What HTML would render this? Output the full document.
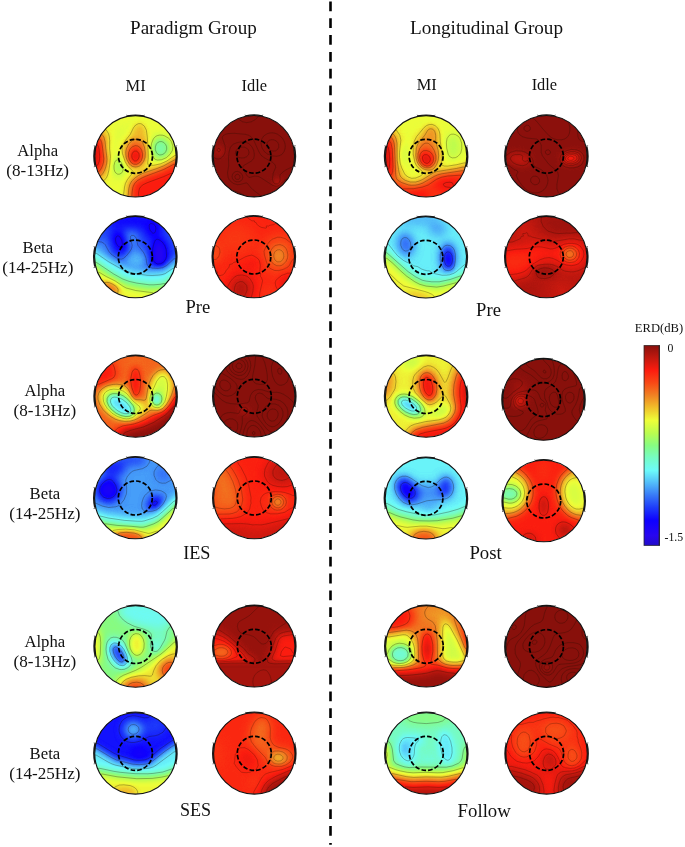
<!DOCTYPE html>
<html lang="en"><head><meta charset="utf-8"><title>ERD topographies</title>
<style>
html,body{margin:0;padding:0;background:#fff;}
body{width:685px;height:847px;overflow:hidden;}
svg{display:block;}
text{font-family:"Liberation Serif",serif;fill:#111;}
</style></head><body>
<svg width="685" height="847" viewBox="0 0 685 847">
<defs>
<filter id="b2" x="-30%" y="-30%" width="160%" height="160%" color-interpolation-filters="sRGB"><feGaussianBlur stdDeviation="2"/></filter>
<filter id="b3" x="-30%" y="-30%" width="160%" height="160%" color-interpolation-filters="sRGB"><feGaussianBlur stdDeviation="3"/></filter>
<filter id="b4" x="-30%" y="-30%" width="160%" height="160%" color-interpolation-filters="sRGB"><feGaussianBlur stdDeviation="4"/></filter>
<filter id="b5" x="-30%" y="-30%" width="160%" height="160%" color-interpolation-filters="sRGB"><feGaussianBlur stdDeviation="5"/></filter>
<filter id="b7" x="-30%" y="-30%" width="160%" height="160%" color-interpolation-filters="sRGB"><feGaussianBlur stdDeviation="7"/></filter>
<filter id="jet" x="0" y="0" width="100%" height="100%" color-interpolation-filters="sRGB"><feComponentTransfer><feFuncR type="table" tableValues="0.133 0.137 0.141 0.144 0.148 0.152 0.155 0.15 0.14 0.129 0.119 0.108 0.097 0.087 0.076 0.066 0.055 0.062 0.07 0.078 0.085 0.093 0.1 0.108 0.115 0.126 0.139 0.152 0.165 0.177 0.19 0.203 0.216 0.229 0.242 0.255 0.268 0.281 0.294 0.308 0.321 0.334 0.347 0.359 0.372 0.385 0.398 0.411 0.424 0.428 0.433 0.438 0.442 0.447 0.452 0.457 0.461 0.469 0.477 0.486 0.495 0.503 0.512 0.521 0.529 0.555 0.58 0.606 0.632 0.657 0.683 0.708 0.733 0.758 0.783 0.808 0.833 0.858 0.883 0.908 0.933 0.934 0.935 0.936 0.937 0.938 0.939 0.94 0.941 0.941 0.941 0.941 0.941 0.941 0.941 0.941 0.941 0.945 0.949 0.953 0.958 0.962 0.966 0.97 0.973 0.975 0.977 0.979 0.981 0.983 0.984 0.986 0.988 0.959 0.93 0.901 0.872 0.843 0.814 0.785 0.758 0.73 0.703 0.675 0.648 0.62 0.592 0.565 0.537"/><feFuncG type="table" tableValues="0.047 0.043 0.04 0.036 0.032 0.029 0.025 0.022 0.02 0.017 0.015 0.012 0.01 0.007 0.005 0.002 0 0.028 0.057 0.085 0.113 0.141 0.17 0.198 0.226 0.256 0.287 0.317 0.348 0.379 0.409 0.44 0.471 0.503 0.536 0.569 0.602 0.635 0.668 0.7 0.733 0.766 0.797 0.827 0.858 0.888 0.919 0.95 0.98 0.981 0.982 0.983 0.984 0.985 0.986 0.987 0.988 0.988 0.988 0.988 0.988 0.988 0.988 0.988 0.988 0.988 0.988 0.988 0.988 0.988 0.988 0.988 0.989 0.989 0.99 0.991 0.992 0.993 0.994 0.995 0.996 0.966 0.936 0.906 0.875 0.845 0.815 0.785 0.755 0.724 0.694 0.663 0.632 0.602 0.571 0.54 0.51 0.482 0.454 0.426 0.397 0.369 0.341 0.313 0.287 0.265 0.243 0.221 0.198 0.176 0.154 0.132 0.11 0.108 0.106 0.105 0.103 0.101 0.1 0.098 0.094 0.09 0.086 0.082 0.079 0.075 0.071 0.067 0.063"/><feFuncB type="table" tableValues="0.784 0.809 0.833 0.858 0.882 0.907 0.931 0.945 0.951 0.957 0.963 0.969 0.975 0.982 0.988 0.994 1 0.998 0.995 0.993 0.991 0.988 0.986 0.984 0.981 0.98 0.979 0.978 0.977 0.976 0.975 0.974 0.973 0.973 0.974 0.975 0.976 0.977 0.978 0.979 0.98 0.98 0.98 0.98 0.98 0.98 0.98 0.98 0.98 0.954 0.929 0.903 0.877 0.851 0.825 0.799 0.773 0.742 0.709 0.676 0.643 0.609 0.576 0.543 0.51 0.484 0.459 0.433 0.408 0.382 0.357 0.331 0.31 0.299 0.287 0.276 0.265 0.254 0.242 0.231 0.22 0.213 0.206 0.2 0.193 0.187 0.18 0.173 0.167 0.162 0.159 0.155 0.152 0.148 0.144 0.141 0.137 0.131 0.124 0.117 0.111 0.104 0.097 0.091 0.085 0.082 0.079 0.075 0.072 0.069 0.065 0.062 0.059 0.059 0.059 0.059 0.059 0.059 0.059 0.059 0.058 0.056 0.055 0.054 0.052 0.051 0.05 0.048 0.047"/><feFuncA type="linear" slope="0" intercept="1"/></feComponentTransfer></filter>
<clipPath id="hc"><circle cx="0" cy="0" r="40.70"/></clipPath>
<linearGradient id="cb" x1="0" y1="1" x2="0" y2="0"><stop offset="0.0000" stop-color="rgb(34,12,200)"/><stop offset="0.0500" stop-color="rgb(40,6,240)"/><stop offset="0.1250" stop-color="rgb(14,0,255)"/><stop offset="0.1900" stop-color="rgb(30,60,250)"/><stop offset="0.2500" stop-color="rgb(55,120,248)"/><stop offset="0.3200" stop-color="rgb(85,195,250)"/><stop offset="0.3750" stop-color="rgb(108,250,250)"/><stop offset="0.4400" stop-color="rgb(118,252,195)"/><stop offset="0.5000" stop-color="rgb(135,252,130)"/><stop offset="0.5600" stop-color="rgb(185,252,80)"/><stop offset="0.6250" stop-color="rgb(238,254,56)"/><stop offset="0.6900" stop-color="rgb(240,190,42)"/><stop offset="0.7500" stop-color="rgb(240,130,35)"/><stop offset="0.8100" stop-color="rgb(248,75,22)"/><stop offset="0.8750" stop-color="rgb(252,28,15)"/><stop offset="0.9300" stop-color="rgb(200,25,15)"/><stop offset="1.0000" stop-color="rgb(137,16,12)"/></linearGradient>
</defs>
<rect width="685" height="847" fill="#fff"/>
<g transform="translate(135.5 156.3)"><path d="M-40.35 9.47 A41.45 41.45 0 0 1 -40.25 -9.89 M40.35 -9.47 A41.45 41.45 0 0 1 40.25 9.89" fill="none" stroke="#1c1c1c" stroke-width="1.7"/><path d="M-8.22 -40.42 A41.25 41.25 0 0 1 8.22 -40.42" fill="none" stroke="#1a1a1a" stroke-width="1.3"/><path d="M-39.3 -9.9l-2.4 -0.6M-39.3 9.9l-2.4 0.6M39.3 -9.9l2.4 -0.6M39.3 9.9l2.4 0.6M-8.3 -40.1l-0.6 -1.4M8.3 -40.1l0.6 -1.4" fill="none" stroke="#222" stroke-width="0.7"/><g clip-path="url(#hc)"><g filter="url(#jet)"><rect x="-60" y="-60" width="120" height="120" fill="#9f9f9f"/><g filter="url(#b7)"><ellipse cx="-53" cy="-2" rx="25" ry="28" fill="#ebebeb"/></g><g filter="url(#b5)"><polygon points="-7,50 -5,25 8,18 26,12 50,-2 50,50" fill="#dfdfdf"/><ellipse cx="25" cy="-8" rx="10" ry="11" fill="#757575"/><ellipse cx="-12" cy="-22" rx="6" ry="9" fill="#999999" transform="rotate(10 -12 -22)"/><ellipse cx="-17" cy="10" rx="6" ry="10" fill="#858585"/><ellipse cx="-23" cy="-8" rx="5" ry="10" fill="#999999"/><ellipse cx="1" cy="-6" rx="13" ry="18" fill="#b8b8b8" transform="rotate(8 1 -6)"/></g><g filter="url(#b3)"><ellipse cx="4" cy="-25" rx="6" ry="8" fill="#b2b2b2"/><ellipse cx="0" cy="-3" rx="9" ry="13" fill="#c7c7c7" transform="rotate(5 0 -3)"/><ellipse cx="0" cy="0" rx="6.5" ry="8.5" fill="#e4e4e4"/></g></g><path d="M26.5 -1.6L28.8 -2.8L30.2 -4.5L31.2 -7.1L31.1 -9.6L30.2 -11.7L28.2 -13.9L26.2 -14.7L24.2 -14.7L22.2 -13.8L20.8 -12.1L19.9 -9.6L19.8 -6.6L20.8 -4.0L22.2 -2.2L24.2 -1.3L26.5 -1.6M26.2 3.4L30.8 1.4L34.6 -2.1L37.0 -6.1L37.4 -10.1L35.9 -14.6L34.6 -16.6L32.8 -18.3L28.8 -20.6L26.8 -21.1L24.2 -21.2L22.2 -20.8L20.5 -20.1L18.8 -18.6L17.8 -17.3L16.1 -13.1L15.6 -9.6L15.6 -6.1L16.7 -1.1L18.8 2.3L20.2 3.3L22.2 3.8L26.2 3.4M-16.2 17.9L-14.2 17.0L-13.0 15.4L-12.3 13.4L-12.4 10.9L-13.1 8.4L-14.8 5.4L-16.8 3.8L-18.2 3.5L-19.8 4.4L-20.8 6.1L-21.5 9.4L-21.4 12.9L-20.8 15.0L-19.8 16.6L-17.8 17.9L-16.2 17.9M-43.8 -39.2L-42.2 -38.2L-30.2 -27.3L-28.4 -25.1L-27.0 -22.6L-26.2 -19.6L-25.8 -15.6L-25.9 -8.1L-25.1 0.4L-25.6 6.9L-26.6 13.9L-27.8 18.7L-29.0 21.4L-31.1 23.9L-42.8 32.8L-43.8 33.2M-13.6 43.9L-11.8 37.4L-11.0 30.9L-10.2 27.4L-8.2 23.4L-2.7 16.4L-2.4 15.4L-3.0 14.4L-7.7 9.9L-10.3 5.4L-13.0 -2.6L-13.4 -6.1L-13.3 -8.1L-12.6 -11.1L-10.6 -15.1L-5.2 -22.0L-2.0 -28.6L0.2 -31.3L2.8 -32.6L4.8 -32.7L6.2 -32.2L8.9 -30.1L10.9 -26.1L11.8 -19.1L12.7 -3.1L12.7 2.4L12.2 6.4L12.3 7.9L12.8 8.6L13.8 9.0L18.2 9.0L24.8 7.6L31.2 4.8L39.2 -0.7L43.8 -0.9M-43.8 -28.4L-42.2 -27.8L-33.6 -22.1L-31.6 -19.1L-30.5 -15.1L-28.5 2.9L-28.8 6.9L-29.6 10.4L-30.8 13.9L-32.8 17.4L-34.8 19.6L-43.8 24.5M1.8 10.5L-0.2 10.7L-2.8 10.2L-4.8 9.0L-6.2 7.6L-8.6 3.4L-9.4 0.9L-9.7 -2.1L-9.7 -4.6L-9.1 -7.6L-6.8 -12.3L-3.2 -15.8L-1.2 -16.7L0.8 -17.0L2.2 -16.9L4.8 -15.9L7.1 -13.6L9.0 -9.1L9.8 -3.6L9.5 1.4L8.0 5.4L5.2 8.8L3.8 9.8L1.8 10.5M-8.2 43.9L-7.3 38.9L-6.7 32.4L-5.7 28.4L-3.8 24.8L-0.2 21.4L2.8 19.3L7.2 17.0L21.8 12.1L28.2 9.5L38.8 3.7L40.2 3.4L43.8 3.9M-43.8 -21.4L-36.2 -17.8L-34.8 -16.2L-33.9 -14.1L-33.2 -10.6L-31.7 2.4L-32.0 5.9L-32.8 8.9L-34.1 11.9L-35.6 14.4L-37.2 15.7L-43.8 18.2M1.2 8.0L-1.8 7.9L-4.2 6.4L-6.2 3.4L-7.1 -0.1L-6.9 -3.6L-5.5 -7.1L-3.2 -9.5L-0.2 -10.7L2.2 -10.3L4.7 -8.6L6.2 -6.0L7.1 -2.6L6.9 0.9L5.8 4.2L3.8 6.6L1.2 8.0M-4.0 43.9L-3.4 35.9L-2.6 30.9L-1.0 27.4L1.8 24.4L6.2 21.8L10.3 19.9L28.2 13.2L37.8 8.2L39.2 7.9L43.8 8.8M-43.8 -13.1L-38.8 -11.7L-37.4 -10.6L-36.4 -7.1L-35.8 0.4L-36.2 4.9L-37.8 8.8L-39.2 9.8L-43.8 10.8M0.8 4.6L-0.8 4.7L-2.0 3.9L-3.1 2.4L-3.6 0.9L-3.7 -1.1L-3.2 -2.9L-2.2 -4.4L-0.8 -5.2L0.8 -5.2L2.2 -4.4L3.2 -3.1L3.6 -1.6L3.7 -0.1L3.2 1.9L2.2 3.6L0.8 4.6M3.6 43.9L3.0 36.9L3.8 32.7L4.8 30.8L7.6 28.4L11.8 26.4L28.2 20.3L34.8 17.3L36.8 17.4L43.8 20.4" fill="none" stroke="#1a0d00" stroke-opacity="0.55" stroke-width="0.55" stroke-linejoin="round"/></g><circle r="40.70" fill="none" stroke="#111" stroke-width="1.1"/><circle cx="0" cy="0" r="17" fill="none" stroke="#000" stroke-width="1.7" stroke-dasharray="4.6 2.1"/></g>
<g transform="translate(253.9 156.2)"><path d="M-40.35 9.47 A41.45 41.45 0 0 1 -40.25 -9.89 M40.35 -9.47 A41.45 41.45 0 0 1 40.25 9.89" fill="none" stroke="#1c1c1c" stroke-width="1.7"/><path d="M-8.22 -40.42 A41.25 41.25 0 0 1 8.22 -40.42" fill="none" stroke="#1a1a1a" stroke-width="1.3"/><path d="M-39.3 -9.9l-2.4 -0.6M-39.3 9.9l-2.4 0.6M39.3 -9.9l2.4 -0.6M39.3 9.9l2.4 0.6M-8.3 -40.1l-0.6 -1.4M8.3 -40.1l0.6 -1.4" fill="none" stroke="#222" stroke-width="0.7"/><g clip-path="url(#hc)"><g filter="url(#jet)"><rect x="-60" y="-60" width="120" height="120" fill="#ffffff"/><g filter="url(#b3)"><ellipse cx="-35" cy="-5" rx="5" ry="4" fill="#f2f2f2"/><ellipse cx="24" cy="26" rx="3.5" ry="3.5" fill="#ededed"/></g></g><path d="M-15.1 23.1L-13.9 21.6L-14.2 19.5L-15.0 18.6L-16.2 18.1L-18.0 18.6L-19.0 20.1L-18.7 22.1L-17.2 23.2L-15.1 23.1M-9.7 1.6L-7.2 0.4L-5.4 -1.4L-4.9 -3.9L-5.6 -6.4L-7.2 -8.1L-9.7 -9.1L-12.7 -9.0L-15.5 -7.9L-17.2 -6.6L-18.2 -4.9L-18.5 -2.9L-17.8 -0.9L-16.4 0.6L-14.7 1.4L-12.2 1.8L-9.7 1.6M-14.9 25.6L-12.8 24.6L-11.6 23.1L-11.1 21.1L-11.5 19.1L-12.8 17.1L-14.7 15.7L-16.7 15.2L-18.7 15.5L-20.2 16.5L-21.3 18.1L-21.8 20.1L-21.5 22.1L-20.7 23.6L-18.9 25.1L-17.2 25.6L-14.9 25.6M43.8 24.5L41.8 23.1L39.8 22.3L37.3 22.0L34.8 22.3L31.8 23.3L30.3 24.2L25.3 29.2L23.8 29.9L21.8 30.1L18.6 29.1L6.8 21.4L4.3 20.2L0.8 19.9L-4.2 21.2L-5.2 21.1L-6.7 19.6L-10.4 13.6L-11.3 11.1L-10.9 10.1L-9.8 9.1L-2.7 5.0L-1.2 3.6L-0.2 2.1L0.4 -0.4L0.3 -2.9L-0.3 -5.9L-1.4 -8.4L-3.2 -10.9L-5.2 -12.6L-7.7 -13.7L-10.2 -14.2L-13.7 -14.2L-17.2 -13.4L-20.2 -12.2L-22.4 -10.4L-23.7 -8.4L-24.8 -4.4L-25.4 2.1L-25.2 9.6L-26.4 16.6L-25.8 21.1L-24.9 23.1L-23.4 25.1L-20.2 27.4L-16.7 28.4L-13.7 28.3L-8.7 26.9L-7.2 26.8L-6.2 27.5L-3.4 31.1L-0.9 33.6L6.3 39.1L10.3 41.5L15.3 43.1L23.3 43.0L26.3 43.6M43.8 10.4L40.3 10.6L36.3 11.6L32.3 13.5L28.8 15.9L26.3 18.6L26.0 20.1L26.3 23.6L25.6 26.1L23.8 27.6L21.8 27.7L20.4 27.1L19.5 26.1L18.5 23.1L19.3 17.1L21.8 11.1L21.2 8.6L18.6 6.1L10.3 1.5L7.2 -0.9L5.0 -4.4L-0.2 -16.0L-1.7 -18.2L-3.7 -20.0L-5.7 -21.1L-8.7 -21.9L-19.7 -22.9L-25.7 -22.6L-28.2 -22.0L-30.2 -20.9L-31.2 -19.9L-31.7 -18.4L-28.8 -10.4L-28.5 -7.4L-28.9 -3.9L-29.8 -1.4L-31.2 0.6L-33.2 2.2L-35.2 2.8L-37.2 2.7L-39.2 1.9L-40.2 1.0L-41.4 -0.9L-42.3 -4.4L-42.9 -14.9L-43.7 -15.8M-43.7 24.1L-38.2 29.0L-34.7 31.1L-30.2 32.7L-19.7 34.6L-15.7 35.8L-12.2 37.6L-3.3 43.6M6.4 -43.9L4.6 -39.9L1.3 -36.5L-2.7 -34.4L-7.2 -33.6L-11.2 -34.4L-14.7 -36.5L-17.3 -39.9L-18.5 -43.9M22.8 0.1L18.3 -0.3L13.3 -2.3L10.2 -4.9L8.1 -8.4L7.1 -12.9L7.7 -16.9L9.8 -20.2L13.3 -22.5L15.8 -23.2L18.3 -23.4L20.8 -23.0L23.3 -22.2L27.3 -19.3L28.9 -17.4L30.3 -14.9L31.1 -12.4L31.4 -9.9L31.1 -7.4L30.3 -4.9L29.0 -2.9L27.3 -1.4L25.3 -0.5L22.8 0.1M-34.7 -4.4L-35.7 -4.5L-36.5 -5.4L-36.5 -6.9L-35.7 -7.9L-34.2 -7.5L-33.7 -6.5L-33.8 -5.4L-34.7 -4.4M21.8 -5.4L19.8 -5.1L17.3 -5.5L15.3 -6.6L13.6 -8.4L12.9 -10.4L12.9 -12.4L13.8 -14.4L15.3 -15.8L17.3 -16.5L19.8 -16.4L22.3 -15.3L24.0 -13.4L24.8 -11.4L24.8 -8.9L23.8 -6.9L21.8 -5.4" fill="none" stroke="#1a0d00" stroke-opacity="0.42" stroke-width="0.65" stroke-linejoin="round"/></g><circle r="40.70" fill="none" stroke="#111" stroke-width="1.1"/><circle cx="0" cy="0" r="17" fill="none" stroke="#000" stroke-width="1.7" stroke-dasharray="4.6 2.1"/></g>
<g transform="translate(426.1 156.3)"><path d="M-40.35 9.47 A41.45 41.45 0 0 1 -40.25 -9.89 M40.35 -9.47 A41.45 41.45 0 0 1 40.25 9.89" fill="none" stroke="#1c1c1c" stroke-width="1.7"/><path d="M-8.22 -40.42 A41.25 41.25 0 0 1 8.22 -40.42" fill="none" stroke="#1a1a1a" stroke-width="1.3"/><path d="M-39.3 -9.9l-2.4 -0.6M-39.3 9.9l-2.4 0.6M39.3 -9.9l2.4 -0.6M39.3 9.9l2.4 0.6M-8.3 -40.1l-0.6 -1.4M8.3 -40.1l0.6 -1.4" fill="none" stroke="#222" stroke-width="0.7"/><g clip-path="url(#hc)"><g filter="url(#jet)"><rect x="-60" y="-60" width="120" height="120" fill="#9f9f9f"/><g filter="url(#b7)"><ellipse cx="-53" cy="3" rx="26" ry="33" fill="#ebebeb"/></g><g filter="url(#b5)"><polygon points="-45,25 -28,23 -12,29 0,23 10,17 28,14 50,9 50,50 -45,50" fill="#d6d6d6"/><ellipse cx="22" cy="28" rx="14" ry="8" fill="#e3e3e3"/><ellipse cx="-8" cy="40" rx="12" ry="7" fill="#e3e3e3"/><ellipse cx="-23" cy="0" rx="5" ry="15" fill="#919191"/><ellipse cx="27" cy="-10" rx="8" ry="13" fill="#8f8f8f"/><ellipse cx="2" cy="-6" rx="13" ry="19" fill="#b8b8b8" transform="rotate(-8 2 -6)"/></g><g filter="url(#b3)"><ellipse cx="5" cy="-22" rx="7" ry="9" fill="#bababa"/><ellipse cx="1" cy="-2" rx="10" ry="14" fill="#c7c7c7" transform="rotate(-10 1 -2)"/><ellipse cx="0" cy="3" rx="7.5" ry="8.5" fill="#e6e6e6" transform="rotate(-20 0 3)"/></g></g><path d="M29.2 1.4L31.6 0.2L33.8 -2.1L34.7 -3.6L35.7 -7.6L35.6 -13.1L33.8 -18.1L32.1 -20.1L29.6 -21.6L27.6 -22.1L25.6 -22.1L24.6 -21.8L22.8 -20.6L20.9 -17.6L20.3 -13.6L20.6 -8.1L22.1 -2.1L23.6 0.4L26.1 1.6L29.2 1.4M-43.9 -38.7L-29.9 -26.4L-26.3 -21.1L-25.2 -16.1L-26.6 -4.1L-26.6 0.9L-25.9 6.9L-24.4 11.5L-21.6 17.4L-20.4 19.0L-17.6 20.9L-14.4 22.0L-10.4 21.7L-6.0 19.9L-2.8 17.4L-2.9 15.9L-8.0 11.4L-9.9 8.9L-11.2 5.9L-12.9 -2.1L-12.9 -9.1L-11.8 -15.1L-9.6 -19.6L-1.9 -28.9L0.6 -30.8L3.1 -31.8L6.1 -31.9L9.1 -30.6L11.8 -28.1L13.3 -24.6L13.8 -22.1L14.2 -14.6L15.9 -3.1L15.9 1.9L15.4 6.9L15.5 7.9L16.0 8.9L18.1 9.7L21.6 9.8L30.6 8.4L38.1 6.6L43.6 7.3M-43.9 -29.6L-42.4 -28.9L-33.2 -22.6L-31.5 -20.6L-30.2 -18.1L-29.1 -13.1L-28.9 4.4L-27.1 15.9L-26.4 18.4L-25.4 20.5L-23.4 22.4L-20.9 24.0L-15.9 25.7L-10.4 25.7L-7.4 24.9L-3.8 23.4L7.1 16.7L10.6 15.3L30.1 12.2L37.1 10.7L43.6 12.1M5.1 13.6L2.1 13.8L-0.9 13.3L-3.4 12.2L-5.9 10.3L-7.8 7.9L-9.0 5.4L-9.9 2.4L-10.3 -1.1L-9.8 -7.6L-9.0 -10.6L-7.9 -12.9L-6.4 -15.2L-1.6 -20.6L1.6 -26.0L3.1 -27.1L4.6 -27.5L6.1 -27.3L7.3 -26.6L8.5 -25.1L9.1 -23.5L9.6 -21.1L9.6 -14.6L12.0 -6.1L12.6 -0.6L12.1 3.9L10.5 8.4L8.1 11.8L6.6 12.9L5.1 13.6M-43.9 -23.6L-34.9 -18.9L-33.7 -17.6L-32.7 -15.6L-32.0 -13.1L-31.5 -9.1L-30.4 18.4L-30.0 20.9L-29.5 22.4L-28.4 23.9L-24.4 26.3L-17.4 28.7L-14.4 29.0L-10.4 28.8L-7.4 28.2L-3.4 26.8L8.6 19.9L11.6 18.6L15.1 17.6L36.1 14.4L43.6 17.0M3.1 11.5L-0.4 11.5L-2.9 10.5L-4.4 9.4L-7.0 5.9L-8.2 1.9L-8.1 -2.6L-6.4 -7.7L-3.4 -11.6L-1.9 -12.6L-0.4 -13.1L1.6 -13.1L2.6 -12.7L5.6 -10.1L8.3 -5.6L9.8 -0.6L9.8 3.4L8.6 7.0L6.1 10.1L3.1 11.5M-43.9 -18.4L-36.9 -15.5L-35.9 -14.6L-35.1 -13.1L-33.8 -7.1L-33.1 10.4L-33.5 15.4L-34.6 18.4L-39.4 21.4L-43.9 23.5M3.1 9.5L0.6 9.8L-2.1 8.9L-4.4 7.0L-5.8 4.4L-6.5 0.9L-5.9 -2.1L-4.4 -4.4L-2.4 -5.6L0.6 -5.7L3.1 -4.9L5.4 -3.1L6.9 -0.6L7.5 2.4L7.0 5.4L5.1 8.2L3.1 9.5M-31.0 43.9L-24.6 34.4L-22.9 32.6L-12.4 32.4L-3.4 30.7L2.1 28.7L10.6 22.9L15.6 20.9L21.6 19.7L34.1 18.9L43.6 23.5M-43.9 -11.3L-39.4 -10.1L-37.9 -8.9L-36.8 -3.1L-36.4 3.9L-36.6 9.9L-37.4 12.7L-38.4 13.5L-43.9 15.4M1.6 7.0L0.1 7.0L-1.3 6.4L-2.4 5.4L-3.2 3.9L-3.7 1.9L-3.5 0.4L-2.9 -0.7L-1.9 -1.5L0.1 -1.7L1.6 -1.2L3.0 -0.1L4.1 1.9L4.2 3.4L3.6 5.4L1.6 7.0M34.5 43.9L33.6 42.3L25.5 31.9L24.1 31.1L21.1 30.8L18.6 30.2L17.3 28.4L17.6 27.4L20.1 26.2L23.6 25.9L26.1 26.4L27.6 29.4L30.7 32.9L37.6 39.9L40.8 43.9" fill="none" stroke="#1a0d00" stroke-opacity="0.55" stroke-width="0.55" stroke-linejoin="round"/></g><circle r="40.70" fill="none" stroke="#111" stroke-width="1.1"/><circle cx="0" cy="0" r="17" fill="none" stroke="#000" stroke-width="1.7" stroke-dasharray="4.6 2.1"/></g>
<g transform="translate(546.4 156.2)"><path d="M-40.35 9.47 A41.45 41.45 0 0 1 -40.25 -9.89 M40.35 -9.47 A41.45 41.45 0 0 1 40.25 9.89" fill="none" stroke="#1c1c1c" stroke-width="1.7"/><path d="M-8.22 -40.42 A41.25 41.25 0 0 1 8.22 -40.42" fill="none" stroke="#1a1a1a" stroke-width="1.3"/><path d="M-39.3 -9.9l-2.4 -0.6M-39.3 9.9l-2.4 0.6M39.3 -9.9l2.4 -0.6M39.3 9.9l2.4 0.6M-8.3 -40.1l-0.6 -1.4M8.3 -40.1l0.6 -1.4" fill="none" stroke="#222" stroke-width="0.7"/><g clip-path="url(#hc)"><g filter="url(#jet)"><rect x="-60" y="-60" width="120" height="120" fill="#fefefe"/><g filter="url(#b3)"><ellipse cx="25" cy="2" rx="10" ry="6" fill="#e6e6e6" transform="rotate(-8 25 2)"/><ellipse cx="-27" cy="3" rx="12" ry="6.5" fill="#f0f0f0" transform="rotate(10 -27 3)"/><ellipse cx="23.5" cy="2" rx="5" ry="3.5" fill="#d9d9d9"/></g></g><path d="M25.5 4.1L26.6 3.6L27.5 2.6L27.5 1.6L26.9 0.7L24.4 0.0L22.9 0.4L21.9 1.1L21.3 2.6L21.9 3.6L23.4 4.2L25.5 4.1M26.9 5.6L29.4 4.1L30.5 2.6L30.3 0.6L28.9 -0.9L25.9 -1.7L23.4 -1.5L20.9 -0.4L19.4 1.1L19.0 2.6L19.2 3.6L20.9 5.2L23.9 6.0L26.9 5.6M24.6 7.6L26.9 7.2L29.4 6.3L31.1 5.1L32.3 3.6L32.7 2.1L32.6 0.6L31.8 -0.9L30.4 -2.1L27.4 -3.0L23.4 -3.0L19.9 -1.5L17.9 0.6L17.4 3.1L18.5 5.6L20.9 7.0L24.6 7.6M-21.9 9.1L-20.1 8.4L-18.6 7.3L-17.9 6.1L-17.9 5.1L-18.6 4.3L-21.1 5.3L-23.1 4.7L-24.0 3.1L-23.7 0.1L-24.3 -0.9L-26.6 -1.7L-31.1 -1.6L-33.7 -0.9L-35.4 0.6L-36.0 2.1L-35.7 3.6L-34.6 5.3L-33.1 6.6L-30.1 8.2L-26.6 9.2L-23.6 9.5L-21.9 9.1M-9.0 28.1L-7.7 27.1L-6.9 25.6L-6.9 23.6L-7.5 22.1L-9.1 20.6L-10.6 20.0L-12.6 20.0L-14.1 20.6L-15.4 22.1L-15.8 23.6L-15.7 25.1L-14.9 26.6L-13.6 27.7L-12.1 28.4L-10.6 28.5L-9.0 28.1M-43.6 9.9L-38.6 8.6L-32.1 13.4L-29.1 14.6L-28.6 16.1L-29.7 18.1L-30.0 19.6L-28.5 23.1L-25.6 27.6L-22.8 31.1L-19.6 33.8L-16.6 35.5L-14.1 36.4L-11.6 36.7L-9.1 36.6L-6.6 36.0L-4.6 35.1L-2.5 33.6L-0.8 31.6L0.3 29.6L1.2 27.1L1.6 24.1L1.2 21.6L0.2 19.1L-1.6 16.5L-4.6 13.9L-7.1 12.4L-12.3 10.1L-13.1 8.1L-13.3 4.6L-14.2 2.1L-16.1 -0.4L-18.1 -2.3L-21.6 -4.2L-24.6 -5.1L-30.6 -5.4L-35.6 -4.0L-39.6 -1.1L-43.6 -0.9M26.7 9.1L30.9 7.6L33.9 5.1L35.0 2.1L34.9 0.6L34.3 -0.9L33.4 -2.2L31.7 -3.4L28.4 -4.6L24.4 -4.7L19.9 -3.3L17.4 -1.4L15.9 1.1L15.6 3.6L16.3 5.6L17.5 7.1L19.9 8.5L23.4 9.2L26.7 9.1M43.9 20.8L39.4 25.4L33.0 34.6L28.9 38.1L25.4 39.8L21.4 40.6L17.4 40.3L14.4 39.0L11.9 36.4L10.5 32.6L10.5 28.1L12.0 19.6L11.5 16.6L9.9 14.4L2.4 8.1L-4.0 -0.4L-5.2 -3.9L-5.1 -10.9L-7.0 -14.9L-8.4 -16.4L-10.1 -17.2L-19.1 -18.1L-23.6 -19.4L-26.6 -21.3L-28.4 -23.9L-28.9 -26.4L-28.7 -28.9L-27.9 -31.4L-26.1 -34.2L-24.1 -36.3L-21.6 -37.9L-19.1 -38.8L-16.6 -38.8L-13.1 -37.7L-10.2 -35.4L-3.6 -27.3L2.7 -20.4L5.3 -18.4L7.9 -17.2L11.4 -16.4L14.9 -16.4L17.9 -17.1L20.2 -18.4L21.9 -20.4L22.9 -22.6L23.4 -25.4L23.4 -28.4L22.9 -31.4L19.7 -39.9L19.6 -41.9L20.2 -43.9M27.3 11.6L30.9 10.9L33.9 9.4L35.4 8.1L37.5 4.1L37.7 1.1L37.1 -0.9L36.2 -2.4L34.3 -4.4L32.9 -5.3L29.9 -6.4L24.9 -6.8L19.9 -5.4L16.9 -3.5L14.3 -0.4L13.5 3.1L14.1 6.6L16.4 9.3L18.9 10.7L23.4 11.7L27.3 11.6M-18.6 -24.9L-20.1 -24.9L-21.1 -25.4L-22.1 -26.4L-22.4 -27.4L-22.2 -28.9L-21.6 -29.9L-19.6 -31.0L-18.3 -30.9L-17.3 -30.4L-16.1 -28.4L-16.1 -26.9L-16.6 -26.0L-18.6 -24.9M43.9 -20.2L42.4 -17.5L40.4 -15.7L38.4 -14.8L35.9 -14.8L33.9 -15.6L32.4 -17.3L31.6 -19.4L31.2 -22.4L31.5 -25.4L32.4 -28.2L33.7 -29.9L35.4 -30.9L37.9 -31.2L40.4 -30.4L42.4 -28.9L43.9 -26.7M2.9 -1.8L0.9 -1.6L-0.6 -2.6L-1.1 -4.4L-0.1 -6.0L1.9 -6.4L3.5 -5.4L4.0 -4.4L4.0 -3.4L2.9 -1.8" fill="none" stroke="#1a0d00" stroke-opacity="0.42" stroke-width="0.65" stroke-linejoin="round"/></g><circle r="40.70" fill="none" stroke="#111" stroke-width="1.1"/><circle cx="0" cy="0" r="17" fill="none" stroke="#000" stroke-width="1.7" stroke-dasharray="4.6 2.1"/></g>
<g transform="translate(135.3 257.1)"><path d="M-40.35 9.47 A41.45 41.45 0 0 1 -40.25 -9.89 M40.35 -9.47 A41.45 41.45 0 0 1 40.25 9.89" fill="none" stroke="#1c1c1c" stroke-width="1.7"/><path d="M-8.22 -40.42 A41.25 41.25 0 0 1 8.22 -40.42" fill="none" stroke="#1a1a1a" stroke-width="1.3"/><path d="M-39.3 -9.9l-2.4 -0.6M-39.3 9.9l-2.4 0.6M39.3 -9.9l2.4 -0.6M39.3 9.9l2.4 0.6M-8.3 -40.1l-0.6 -1.4M8.3 -40.1l0.6 -1.4" fill="none" stroke="#222" stroke-width="0.7"/><g clip-path="url(#hc)"><g filter="url(#jet)"><rect x="-60" y="-60" width="120" height="120" fill="#333333"/><g filter="url(#b5)"><ellipse cx="0" cy="-36" rx="30" ry="8" fill="#212121"/><ellipse cx="-15" cy="-15" rx="6" ry="12" fill="#0f0f0f" transform="rotate(-25 -15 -15)"/><ellipse cx="24" cy="-3" rx="7.5" ry="15" fill="#0a0a0a"/><ellipse cx="18" cy="-26" rx="8" ry="8" fill="#1a1a1a"/><ellipse cx="-34" cy="-8" rx="7" ry="10" fill="#474747"/><ellipse cx="0" cy="4" rx="12" ry="11" fill="#505050"/><ellipse cx="-4" cy="-18" rx="6" ry="10" fill="#494949" transform="rotate(-10 -4 -18)"/></g><g filter="url(#b3)"><polygon points="-60,-21 -50,-21 -38,-11 -25,-2 -11,6 0,9 15,11 29,10 40,1 50,-5 60,-5 60,60 -60,60" fill="#4a4a4a"/><polygon points="-60,-16 -50,-16 -38,-6 -25,3 -11,11 0,14 15,16 29,15 40,6 50,0 60,0 60,60 -60,60" fill="#5d5d5d"/><polygon points="-60,-8 -50,-8 -38,2 -25,11 -11,19 0,22 15,24 29,23 40,14 50,8 60,8 60,60 -60,60" fill="#707070"/><polygon points="-60,-4 -50,-4 -38,6 -25,15 -11,23 0,26 15,28 29,27 40,18 50,12 60,12 60,60 -60,60" fill="#808080"/><polygon points="-60,0 -50,0 -38,10 -25,19 -11,27 0,30 15,32 29,31 40,22 50,16 60,16 60,60 -60,60" fill="#8f8f8f"/><polygon points="-60,4 -50,4 -38,14 -25,23 -11,31 0,34 15,36 29,35 40,26 50,20 60,20 60,60 -60,60" fill="#a1a1a1"/><ellipse cx="-25" cy="31" rx="10" ry="6" fill="#c2c2c2" transform="rotate(25 -25 31)"/></g></g><path d="M18.6 -23.9L19.4 -24.3L20.0 -25.4L20.6 -28.4L20.3 -30.4L19.9 -31.4L18.4 -32.8L16.4 -33.5L15.4 -33.5L14.4 -32.9L13.9 -31.9L14.0 -28.9L14.8 -26.9L16.4 -24.8L17.4 -24.0L18.6 -23.9M-13.8 -10.4L-13.1 -11.4L-12.8 -12.9L-13.6 -16.9L-15.6 -20.4L-16.6 -21.0L-18.1 -21.1L-19.1 -20.2L-19.7 -18.4L-19.7 -16.4L-19.1 -13.9L-17.9 -11.9L-16.6 -10.5L-15.1 -10.0L-13.8 -10.4M25.5 6.6L28.2 5.1L30.6 1.6L31.3 -0.9L30.9 -7.4L29.5 -11.4L27.1 -14.9L23.9 -17.3L22.4 -17.8L21.4 -17.8L20.4 -17.3L19.8 -16.4L18.6 -13.4L17.5 -8.9L17.2 -4.4L17.8 1.1L18.5 4.1L20.4 6.1L22.4 6.9L25.5 6.6M-43.6 -18.4L-36.6 -15.5L-33.6 -15.0L-31.6 -13.9L-30.1 -12.4L-26.6 -5.9L-24.1 -2.9L-19.1 0.6L-16.1 1.8L-14.1 2.1L-12.1 1.4L-9.3 -0.9L-6.1 -4.7L-4.3 -7.4L-3.5 -9.4L-3.1 -11.9L-4.8 -17.9L-4.9 -19.9L-4.6 -20.9L-3.6 -21.7L-1.6 -21.6L-0.1 -20.4L1.0 -18.9L2.5 -11.9L8.1 -4.9L9.4 -2.4L10.7 1.1L11.4 6.1L12.0 8.1L13.9 9.9L16.9 11.0L22.9 11.3L27.4 10.6L31.4 8.4L38.4 1.9L39.9 1.5L43.9 1.6M-43.6 -4.6L-38.6 -3.6L-27.1 4.4L-13.1 12.4L-7.6 14.6L0.4 16.6L11.9 18.2L16.9 18.4L23.4 18.0L26.9 17.5L29.9 16.5L37.4 11.4L38.4 11.3L43.9 12.8M-43.6 5.5L-40.1 5.1L-38.6 5.5L-21.6 16.9L-12.6 21.9L-6.1 24.3L1.4 26.0L13.9 27.7L18.4 27.7L24.9 27.2L28.4 26.5L29.8 26.6L42.4 37.8L43.9 38.7M-43.6 17.5L-37.6 15.2L-36.1 15.2L-29.1 19.4L-20.1 23.9L-12.1 29.3L-9.1 30.9L0.4 33.4L17.3 35.6L18.4 37.1L21.4 43.6M-43.6 36.2L-42.1 35.2L-30.5 25.6L-28.6 25.2L-25.9 25.6L-22.6 27.1L-20.1 28.7L-18.1 30.6L-17.1 32.6L-17.4 35.1L-21.4 43.6" fill="none" stroke="#1a0d00" stroke-opacity="0.55" stroke-width="0.55" stroke-linejoin="round"/></g><circle r="40.70" fill="none" stroke="#111" stroke-width="1.1"/><circle cx="0" cy="0" r="17" fill="none" stroke="#000" stroke-width="1.7" stroke-dasharray="4.6 2.1"/></g>
<g transform="translate(253.8 257.0)"><path d="M-40.35 9.47 A41.45 41.45 0 0 1 -40.25 -9.89 M40.35 -9.47 A41.45 41.45 0 0 1 40.25 9.89" fill="none" stroke="#1c1c1c" stroke-width="1.7"/><path d="M-8.22 -40.42 A41.25 41.25 0 0 1 8.22 -40.42" fill="none" stroke="#1a1a1a" stroke-width="1.3"/><path d="M-39.3 -9.9l-2.4 -0.6M-39.3 9.9l-2.4 0.6M39.3 -9.9l2.4 -0.6M39.3 9.9l2.4 0.6M-8.3 -40.1l-0.6 -1.4M8.3 -40.1l0.6 -1.4" fill="none" stroke="#222" stroke-width="0.7"/><g clip-path="url(#hc)"><g filter="url(#jet)"><rect x="-60" y="-60" width="120" height="120" fill="#dddddd"/><g filter="url(#b7)"><ellipse cx="-18" cy="-18" rx="20" ry="14" fill="#d5d5d5"/><ellipse cx="25" cy="-3" rx="15" ry="18" fill="#c9c9c9" transform="rotate(10 25 -3)"/><ellipse cx="-13" cy="32" rx="11" ry="14" fill="#f5f5f5" transform="rotate(10 -13 32)"/><ellipse cx="14" cy="36" rx="10" ry="8" fill="#d6d6d6"/></g><g filter="url(#b5)"><ellipse cx="-40" cy="-4" rx="7" ry="10" fill="#cccccc"/><ellipse cx="34" cy="26" rx="8" ry="8" fill="#e7e7e7"/><ellipse cx="-3" cy="8" rx="12" ry="5" fill="#e2e2e2" transform="rotate(-20 -3 8)"/><ellipse cx="-30" cy="14" rx="4" ry="4" fill="#d9d9d9"/></g><g filter="url(#b3)"><ellipse cx="25" cy="-1" rx="6.5" ry="8" fill="#bebebe"/></g></g><path d="M26.4 4.8L28.0 3.8L29.4 1.8L30.0 -0.2L29.9 -2.8L29.2 -4.8L27.9 -6.3L25.9 -7.3L23.9 -7.2L22.1 -6.2L20.8 -4.8L20.0 -2.2L20.1 0.2L21.1 2.8L22.4 4.2L23.9 4.9L26.4 4.8M26.3 8.8L27.9 8.3L29.7 7.2L32.4 4.2L33.7 1.2L34.0 -2.2L33.4 -5.8L32.4 -8.1L31.3 -9.8L28.9 -11.5L26.4 -12.3L24.9 -12.3L21.4 -11.5L18.7 -9.2L16.3 -5.2L15.7 -2.8L15.7 -0.8L16.3 2.2L17.3 4.2L19.9 7.2L22.9 8.7L26.3 8.8M43.9 -16.6L36.9 -14.2L31.4 -18.4L26.9 -19.7L23.9 -19.8L18.9 -18.0L16.0 -15.8L12.5 -11.2L10.2 -5.8L10.6 -2.2L12.7 5.2L14.2 8.8L16.4 11.5L20.9 13.5L24.9 13.6L29.4 12.4L32.9 10.7L35.4 8.8L37.7 4.2L39.4 2.0L40.4 1.6L43.9 1.6M-43.6 2.6L-38.6 2.5L-37.1 1.9L-36.1 1.0L-34.9 -0.8L-33.8 -4.8L-34.2 -8.2L-35.4 -10.2L-37.1 -11.1L-43.6 -12.6M32.5 -43.8L23.9 -33.2L23.4 -33.0L21.9 -33.6L19.9 -32.4L15.9 -31.7L14.9 -30.9L12.9 -31.1L12.4 -30.8L12.7 -29.2L11.9 -28.8L7.4 -29.7L4.9 -31.0L3.1 -32.8L2.4 -34.3L0.9 -34.9L0.5 -36.2L-2.1 -36.1L-3.1 -37.2L-4.6 -37.9L-6.9 -39.8L-7.8 -43.8M-43.6 15.8L-37.1 14.1L-36.3 14.8L-36.3 15.8L-38.1 16.8L-38.7 17.8L-38.6 18.3L-38.1 18.5L-36.6 18.2L-33.6 18.6L-30.9 17.8L-29.1 16.2L-27.6 13.5L-24.8 10.2L-24.1 7.4L-21.6 6.9L-20.1 5.5L-17.7 4.8L-8.6 -0.1L-5.6 -1.2L-2.1 -1.9L0.9 -0.6L4.3 1.8L5.6 3.8L6.5 8.2L6.0 14.2L6.8 17.2L6.5 19.2L7.7 20.8L8.8 23.8L5.9 36.2L5.7 39.2L6.1 43.8M31.3 43.8L30.6 42.2L23.9 33.0L22.0 29.2L21.4 25.8L22.3 23.2L23.6 21.8L27.9 18.4L33.9 16.2L36.9 16.1L42.4 18.5L43.9 18.8M-38.1 43.8L-26.6 30.4L-23.1 24.1L-19.1 19.8L-16.1 18.4L-11.6 18.0L-7.6 18.9L-5.6 20.0L-3.5 22.2L-1.3 25.8L-0.6 28.2L-0.5 30.2L-1.0 34.8L-2.2 39.2L-2.4 43.8M-24.4 43.8L-19.7 34.8L-19.3 30.8L-18.3 27.8L-17.1 26.2L-14.4 24.8L-13.1 24.5L-11.0 24.8L-8.5 26.8L-7.3 28.2L-6.8 30.2L-6.8 33.8L-9.3 39.2L-10.3 43.8" fill="none" stroke="#1a0d00" stroke-opacity="0.45" stroke-width="0.55" stroke-linejoin="round"/></g><circle r="40.70" fill="none" stroke="#111" stroke-width="1.1"/><circle cx="0" cy="0" r="17" fill="none" stroke="#000" stroke-width="1.7" stroke-dasharray="4.6 2.1"/></g>
<g transform="translate(425.8 257.3)"><path d="M-40.35 9.47 A41.45 41.45 0 0 1 -40.25 -9.89 M40.35 -9.47 A41.45 41.45 0 0 1 40.25 9.89" fill="none" stroke="#1c1c1c" stroke-width="1.7"/><path d="M-8.22 -40.42 A41.25 41.25 0 0 1 8.22 -40.42" fill="none" stroke="#1a1a1a" stroke-width="1.3"/><path d="M-39.3 -9.9l-2.4 -0.6M-39.3 9.9l-2.4 0.6M39.3 -9.9l2.4 -0.6M39.3 9.9l2.4 0.6M-8.3 -40.1l-0.6 -1.4M8.3 -40.1l0.6 -1.4" fill="none" stroke="#222" stroke-width="0.7"/><g clip-path="url(#hc)"><g filter="url(#jet)"><rect x="-60" y="-60" width="120" height="120" fill="#5d5d5d"/><g filter="url(#b4)"><polygon points="-60,-16 -50,-16 -34,-4 -20,10 -5,20 12,22 30,17 50,8 60,8 60,60 -60,60" fill="#707070"/><polygon points="-60,-10 -50,-10 -34,2 -20,16 -5,26 12,28 30,23 50,14 60,14 60,60 -60,60" fill="#8f8f8f"/><polygon points="-60,-5 -50,-5 -34,7 -20,21 -5,31 12,33 30,28 50,19 60,19 60,60 -60,60" fill="#a2a2a2"/><ellipse cx="-8" cy="40" rx="12" ry="6" fill="#b0b0b0"/></g><g filter="url(#b5)"><ellipse cx="-20" cy="-13" rx="8" ry="12" fill="#3b3b3b" transform="rotate(-10 -20 -13)"/><ellipse cx="-8" cy="-38" rx="22" ry="7" fill="#4f4f4f"/><ellipse cx="12" cy="-28" rx="9" ry="7" fill="#4a4a4a"/><ellipse cx="22" cy="0" rx="7" ry="14" fill="#262626"/></g><g filter="url(#b3)"><ellipse cx="23" cy="3" rx="3.5" ry="8" fill="#1f1f1f"/></g></g><path d="M23.5 8.9L24.9 8.0L26.1 5.9L26.7 3.4L26.7 0.9L26.1 -2.1L25.0 -4.1L23.4 -5.2L21.9 -5.4L20.3 -4.6L19.0 -2.6L18.5 -0.1L18.5 2.9L19.0 5.4L19.9 7.5L21.4 8.8L23.5 8.9M-17.9 -6.6L-16.2 -8.1L-15.3 -10.1L-15.0 -11.6L-15.3 -14.6L-16.6 -17.3L-18.1 -18.9L-19.6 -19.7L-21.6 -19.7L-23.5 -18.6L-24.7 -16.6L-25.1 -14.1L-24.9 -11.6L-23.6 -8.6L-22.1 -7.0L-20.1 -6.2L-17.9 -6.6M24.5 12.9L27.0 11.4L28.8 8.4L29.7 2.9L29.6 -3.1L28.6 -7.1L27.1 -9.6L24.4 -11.6L21.4 -12.1L19.9 -11.8L18.4 -10.9L17.0 -9.6L15.8 -7.6L14.5 -3.1L14.4 2.7L15.7 7.4L17.9 11.6L19.4 12.7L20.9 13.2L22.9 13.3L24.5 12.9M-43.6 -15.5L-37.6 -13.4L-31.6 -5.6L-28.1 -1.4L-22.1 3.3L-18.1 5.4L-14.2 6.9L-12.1 8.5L-8.0 9.4L-4.1 11.8L-1.6 12.7L1.4 13.5L3.4 13.5L6.4 15.4L9.1 16.4L16.4 18.0L20.9 17.9L23.9 17.5L27.9 16.1L30.6 14.4L38.4 7.6L39.4 7.4L43.9 8.2M-43.6 -5.3L-40.1 -4.8L-38.6 -4.2L-17.6 14.4L-10.1 19.6L-3.6 22.9L0.4 23.8L5.9 24.5L13.4 24.5L24.4 22.2L34.4 18.7L35.9 19.0L43.9 23.1M-43.6 0.8L-40.1 0.8L-38.6 1.3L-33.1 5.9L-24.8 13.9L-19.1 18.9L-11.1 24.4L-6.1 27.0L0.4 28.8L10.9 29.8L17.4 28.8L29.9 25.5L31.9 26.4L43.9 36.2M-43.6 18.7L-41.6 18.2L-37.6 16.4L-36.1 16.3L-27.6 24.5L-22.1 28.7L-1.6 34.0L2.4 35.3L5.9 36.9L8.3 38.9L9.4 43.9" fill="none" stroke="#1a0d00" stroke-opacity="0.55" stroke-width="0.55" stroke-linejoin="round"/></g><circle r="40.70" fill="none" stroke="#111" stroke-width="1.1"/><circle cx="0" cy="0" r="17" fill="none" stroke="#000" stroke-width="1.7" stroke-dasharray="4.6 2.1"/></g>
<g transform="translate(546.3 257.1)"><path d="M-40.35 9.47 A41.45 41.45 0 0 1 -40.25 -9.89 M40.35 -9.47 A41.45 41.45 0 0 1 40.25 9.89" fill="none" stroke="#1c1c1c" stroke-width="1.7"/><path d="M-8.22 -40.42 A41.25 41.25 0 0 1 8.22 -40.42" fill="none" stroke="#1a1a1a" stroke-width="1.3"/><path d="M-39.3 -9.9l-2.4 -0.6M-39.3 9.9l-2.4 0.6M39.3 -9.9l2.4 -0.6M39.3 9.9l2.4 0.6M-8.3 -40.1l-0.6 -1.4M8.3 -40.1l0.6 -1.4" fill="none" stroke="#222" stroke-width="0.7"/><g clip-path="url(#hc)"><g filter="url(#jet)"><rect x="-60" y="-60" width="120" height="120" fill="#f2f2f2"/><g filter="url(#b7)"><ellipse cx="-32" cy="5" rx="22" ry="15" fill="#d9d9d9" transform="rotate(-5 -32 5)"/><ellipse cx="-4" cy="-5" rx="15" ry="9" fill="#dbdbdb" transform="rotate(15 -4 -5)"/><ellipse cx="25" cy="-3" rx="15" ry="13" fill="#d4d4d4"/><ellipse cx="16" cy="-32" rx="25" ry="10" fill="#fafafa" transform="rotate(15 16 -32)"/><ellipse cx="-22" cy="-26" rx="10" ry="8" fill="#e8e8e8"/><ellipse cx="-18" cy="29" rx="11" ry="8" fill="#f6f6f6"/><ellipse cx="16" cy="34" rx="9" ry="6" fill="#e6e6e6"/></g><g filter="url(#b4)"><ellipse cx="-2" cy="15" rx="12" ry="5" fill="#fcfcfc"/></g><g filter="url(#b3)"><ellipse cx="23.5" cy="-3" rx="6.5" ry="6" fill="#c1c1c1"/></g></g><path d="M25.2 0.1L26.5 -0.8L27.1 -1.9L27.3 -3.4L26.7 -4.9L25.6 -5.9L24.5 -6.4L23.0 -6.4L21.5 -5.8L20.4 -4.9L19.9 -3.9L19.8 -2.4L20.2 -1.4L21.1 -0.4L22.5 0.4L25.2 0.1M24.5 3.1L27.0 2.4L29.0 0.7L30.1 -1.4L30.3 -3.9L29.5 -6.0L27.7 -7.9L25.0 -8.9L22.5 -9.0L20.0 -8.1L18.0 -6.4L16.9 -4.4L16.9 -2.4L17.5 -0.4L19.5 1.9L22.0 3.0L24.5 3.1M26.8 5.1L28.5 4.6L30.5 3.1L32.6 0.1L33.3 -3.4L32.2 -6.9L29.5 -9.7L26.0 -11.1L22.5 -11.2L18.5 -10.0L16.3 -8.4L14.1 -5.4L13.8 -2.4L14.8 0.6L17.5 3.4L20.5 5.0L23.5 5.5L26.8 5.1M-43.5 20.8L-36.0 17.5L-29.5 16.8L-24.5 15.4L-22.0 14.4L-19.5 12.7L-13.5 7.0L-6.5 2.8L-1.5 1.0L3.0 0.5L6.5 1.3L10.5 3.1L16.0 6.5L20.5 8.0L25.0 8.6L29.0 7.9L32.0 6.8L35.0 4.1L37.1 0.1L37.7 -2.9L36.9 -6.9L34.0 -10.9L32.5 -12.0L30.0 -13.1L26.0 -13.7L22.5 -13.7L18.0 -12.9L9.5 -9.1L6.0 -8.2L4.0 -8.2L-3.5 -9.9L-7.0 -10.3L-12.5 -10.0L-20.0 -8.5L-31.5 -7.7L-39.0 -6.3L-43.5 -7.0M44.0 -20.1L35.5 -16.6L27.5 -18.3L23.0 -18.3L7.5 -15.6L-1.5 -17.1L-14.0 -20.0L-16.0 -21.0L-18.0 -21.1L-18.7 -23.9L-19.5 -24.5L-21.5 -23.5L-23.5 -23.6L-23.6 -22.9L-23.0 -21.9L-23.0 -20.9L-25.0 -20.7L-26.0 -18.4L-33.5 -15.2L-37.0 -14.8L-43.5 -17.0M-43.5 32.4L-41.5 31.3L-31.2 23.6L-22.1 21.1L-19.5 19.9L-17.0 17.7L-14.3 13.1L-12.0 10.7L-9.0 8.6L-6.0 7.7L-1.5 7.1L3.0 7.0L6.0 7.5L11.0 9.5L16.5 13.2L19.0 14.1L24.5 14.8L27.5 14.7L31.5 13.7L34.0 12.7L38.0 10.6L44.0 12.0M44.0 -34.7L30.5 -24.6L23.5 -23.9L20.0 -24.0L12.5 -23.5L8.0 -24.1L1.9 -25.9L-1.6 -28.9L-3.0 -30.6L-5.1 -35.4L-5.0 -39.9L-5.3 -43.9M-0.0 21.3L-1.5 21.5L-5.5 21.2L-7.5 20.5L-8.8 19.6L-10.2 16.1L-9.9 14.6L-8.9 13.1L-5.5 11.4L-1.5 10.7L2.5 11.1L6.3 12.6L7.6 14.6L7.5 16.6L7.1 17.6L4.0 20.2L-0.0 21.3" fill="none" stroke="#1a0d00" stroke-opacity="0.45" stroke-width="0.55" stroke-linejoin="round"/></g><circle r="40.70" fill="none" stroke="#111" stroke-width="1.1"/><circle cx="0" cy="0" r="17" fill="none" stroke="#000" stroke-width="1.7" stroke-dasharray="4.6 2.1"/></g>
<g transform="translate(135.6 396.5)"><path d="M-40.35 9.47 A41.45 41.45 0 0 1 -40.25 -9.89 M40.35 -9.47 A41.45 41.45 0 0 1 40.25 9.89" fill="none" stroke="#1c1c1c" stroke-width="1.7"/><path d="M-8.22 -40.42 A41.25 41.25 0 0 1 8.22 -40.42" fill="none" stroke="#1a1a1a" stroke-width="1.3"/><path d="M-39.3 -9.9l-2.4 -0.6M-39.3 9.9l-2.4 0.6M39.3 -9.9l2.4 -0.6M39.3 9.9l2.4 0.6M-8.3 -40.1l-0.6 -1.4M8.3 -40.1l0.6 -1.4" fill="none" stroke="#222" stroke-width="0.7"/><g clip-path="url(#hc)"><g filter="url(#jet)"><rect x="-60" y="-60" width="120" height="120" fill="#c9c9c9"/><g filter="url(#b5)"><ellipse cx="-34" cy="-24" rx="15" ry="16" fill="#dfdfdf"/><ellipse cx="8" cy="-36" rx="16" ry="7" fill="#c7c7c7"/><polygon points="-32,50 -14,31 6,27 22,19 36,4 50,-12 50,50" fill="#f5f5f5"/><polygon points="-20,50 -6,35 10,32 26,24 40,8 50,0 50,50" fill="#ffffff"/></g><g filter="url(#b4)"><ellipse cx="-15" cy="6" rx="23" ry="15" fill="#969696" transform="rotate(30 -15 6)"/><ellipse cx="25" cy="-6" rx="11" ry="20" fill="#969696" transform="rotate(10 25 -6)"/><ellipse cx="4" cy="12" rx="9" ry="6" fill="#999999"/></g><g filter="url(#b3)"><ellipse cx="-15" cy="9" rx="15" ry="8.5" fill="#595959" transform="rotate(35 -15 9)"/><ellipse cx="21" cy="3" rx="5" ry="6.5" fill="#5e5e5e"/><ellipse cx="0" cy="-13" rx="5" ry="17" fill="#e2e2e2"/><ellipse cx="0" cy="-8" rx="3.5" ry="10" fill="#e2e2e2"/></g></g><path d="M-8.5 17.2L-6.8 16.8L-5.8 16.1L-5.0 14.8L-4.8 13.2L-5.1 11.8L-6.0 9.8L-9.3 5.8L-13.3 2.8L-17.8 0.9L-21.3 0.6L-22.8 0.9L-24.2 1.8L-25.2 3.8L-24.9 6.2L-23.4 9.2L-21.3 11.5L-17.8 14.3L-14.3 16.2L-10.8 17.2L-8.5 17.2M23.0 8.2L24.5 7.2L25.6 5.8L26.3 3.2L26.2 1.2L25.6 -0.8L24.2 -2.5L22.7 -3.3L20.7 -3.4L18.7 -2.4L17.4 -0.8L16.6 1.8L16.6 4.2L17.7 6.6L19.2 8.0L21.2 8.6L23.0 8.2M-6.0 19.8L-4.1 18.8L-2.3 17.0L-1.4 14.8L-1.3 12.8L-1.8 10.8L-2.7 8.8L-7.8 2.7L-12.3 -0.6L-15.3 -2.0L-18.3 -2.8L-22.8 -2.9L-25.3 -2.0L-26.8 -0.9L-28.4 1.8L-28.6 5.2L-27.0 9.2L-24.3 12.8L-19.4 16.8L-14.8 19.0L-9.8 20.1L-6.0 19.8M24.0 10.8L26.8 8.8L29.2 5.2L30.7 0.2L31.9 -6.8L32.0 -11.8L31.2 -16.2L29.7 -18.8L28.7 -19.6L27.2 -20.0L25.4 -19.8L23.8 -18.8L21.1 -15.2L18.3 -8.8L15.2 -2.8L14.2 1.8L14.4 5.8L15.2 7.8L16.4 9.2L18.2 10.5L20.2 11.1L22.2 11.2L24.0 10.8M-6.8 22.2L-2.8 21.0L0.7 18.2L4.4 13.2L4.7 11.8L3.8 9.8L-2.8 4.4L-8.8 -2.9L-12.3 -5.4L-17.3 -7.0L-21.8 -7.4L-25.8 -6.8L-29.3 -5.1L-30.8 -3.5L-31.8 -1.8L-32.4 0.2L-32.4 2.2L-32.1 4.8L-31.0 7.8L-28.2 12.2L-23.8 16.6L-18.3 20.0L-12.3 22.0L-9.3 22.4L-6.8 22.2M43.7 -40.0L40.7 -37.8L29.7 -27.4L28.7 -27.0L25.2 -26.6L22.7 -25.7L20.2 -23.9L17.6 -21.2L15.2 -17.2L13.3 -12.2L12.0 -6.8L10.7 1.6L9.7 3.5L8.2 3.8L5.2 3.3L1.2 3.2L-0.8 2.6L-3.3 0.3L-7.3 -7.1L-9.8 -10.0L-11.3 -10.9L-13.3 -11.6L-18.8 -12.3L-22.3 -12.1L-26.8 -11.2L-29.8 -10.1L-33.3 -7.8L-35.4 -5.8L-36.9 -3.2L-37.7 -0.2L-37.6 2.8L-35.9 7.8L-32.8 12.8L-28.8 17.0L-24.8 20.1L-20.3 22.7L-15.8 24.2L-10.8 24.9L-5.3 24.6L-1.3 23.5L1.7 22.2L9.2 17.8L14.2 14.1L16.2 13.7L22.2 13.9L24.7 13.2L27.2 11.9L30.7 8.2L33.7 3.2L36.0 -1.8L38.5 -9.8L39.2 -10.3L43.7 -11.5M-30.7 -43.8L-22.8 -32.2L-21.3 -29.2L-20.4 -25.2L-20.4 -22.2L-20.9 -20.8L-21.7 -19.2L-23.7 -17.8L-36.3 -12.4L-37.8 -12.3L-43.8 -14.1M1.7 -1.7L0.7 -1.4L-0.3 -1.6L-1.8 -3.3L-3.9 -9.2L-4.8 -14.9L-4.7 -18.8L-3.7 -23.8L-2.3 -26.4L-1.3 -27.2L-0.3 -27.5L1.7 -27.1L3.2 -25.1L4.4 -20.8L4.9 -16.2L5.0 -11.8L4.3 -6.2L3.2 -3.3L1.7 -1.7M-26.0 43.8L-25.4 42.2L-20.6 34.2L-17.8 31.6L-12.8 29.4L-1.8 27.5L2.7 26.1L7.7 24.0L17.2 19.1L25.7 16.0L28.7 14.2L31.8 11.2L34.6 7.8L39.2 0.6L40.2 0.0L43.7 -0.0M-14.5 43.8L-12.5 37.8L-11.6 36.8L-10.1 35.8L-4.9 33.8L7.7 30.5L17.7 26.1L29.7 18.6L38.2 10.2L39.2 10.1L43.7 11.1" fill="none" stroke="#1a0d00" stroke-opacity="0.55" stroke-width="0.55" stroke-linejoin="round"/></g><circle r="40.70" fill="none" stroke="#111" stroke-width="1.1"/><circle cx="0" cy="0" r="17" fill="none" stroke="#000" stroke-width="1.7" stroke-dasharray="4.6 2.1"/></g>
<g transform="translate(254.3 396.3)"><path d="M-40.35 9.47 A41.45 41.45 0 0 1 -40.25 -9.89 M40.35 -9.47 A41.45 41.45 0 0 1 40.25 9.89" fill="none" stroke="#1c1c1c" stroke-width="1.7"/><path d="M-8.22 -40.42 A41.25 41.25 0 0 1 8.22 -40.42" fill="none" stroke="#1a1a1a" stroke-width="1.3"/><path d="M-39.3 -9.9l-2.4 -0.6M-39.3 9.9l-2.4 0.6M39.3 -9.9l2.4 -0.6M39.3 9.9l2.4 0.6M-8.3 -40.1l-0.6 -1.4M8.3 -40.1l0.6 -1.4" fill="none" stroke="#222" stroke-width="0.7"/><g clip-path="url(#hc)"><g filter="url(#jet)"><rect x="-60" y="-60" width="120" height="120" fill="#ffffff"/><g filter="url(#b3)"><ellipse cx="-10" cy="14" rx="5" ry="2.5" fill="#f0f0f0" transform="rotate(30 -10 14)"/></g></g><path d="M-27.1 -5.6L-25.1 -6.6L-24.0 -8.1L-23.6 -10.1L-24.4 -12.6L-26.1 -14.5L-28.1 -15.7L-30.6 -16.3L-32.6 -15.8L-33.9 -14.6L-34.5 -13.1L-34.5 -11.1L-33.8 -9.1L-32.6 -7.4L-30.7 -6.1L-29.1 -5.5L-27.1 -5.6M0.4 37.9L0.7 36.9L0.4 36.0L-0.1 35.4L-1.2 35.4L-1.9 36.4L-1.6 37.9L-0.6 38.4L0.4 37.9M-43.6 -25.8L-40.4 -24.6L-39.5 -23.6L-40.5 -17.1L-40.1 -13.1L-38.1 -8.1L-34.6 -3.7L-30.6 -1.0L-26.6 -0.1L-22.6 -0.9L-19.4 -3.1L-17.7 -5.6L-17.1 -8.1L-17.3 -10.6L-18.6 -13.1L-21.0 -15.6L-24.8 -18.6L-29.6 -21.5L-35.9 -24.6L-36.6 -25.6L-33.5 -37.1L-33.5 -40.6L-34.4 -43.6M9.5 -12.1L10.9 -12.7L11.9 -13.6L13.1 -16.6L13.0 -21.1L11.9 -27.7L10.3 -34.1L8.4 -38.2L5.9 -41.0L4.4 -41.8L2.9 -41.9L1.9 -41.3L1.3 -39.6L0.5 -31.1L-1.7 -20.1L-1.7 -16.6L-0.3 -14.1L1.9 -12.6L5.9 -11.8L9.5 -12.1M5.0 43.9L6.1 41.9L6.6 39.9L6.5 37.4L5.9 34.9L4.4 32.5L2.9 30.9L0.9 29.6L-1.1 29.1L-3.1 29.4L-4.6 30.4L-5.9 31.9L-6.8 33.9L-7.4 36.4L-7.5 39.4L-7.1 41.9L-6.1 43.9M-12.5 -43.6L-9.1 -41.8L-5.9 -38.6L-4.0 -34.6L-3.5 -30.6L-4.4 -25.6L-6.9 -20.6L-10.1 -17.7L-11.6 -17.1L-13.6 -16.9L-17.6 -17.8L-23.0 -21.1L-26.8 -24.6L-28.6 -28.1L-29.0 -30.1L-28.8 -32.6L-27.2 -37.6L-24.6 -41.2L-22.6 -42.7L-20.7 -43.6M26.9 -11.0L24.9 -11.2L23.4 -12.0L21.9 -13.2L20.5 -15.1L18.4 -19.6L17.2 -25.6L17.2 -30.1L18.5 -34.1L20.9 -36.8L22.4 -37.7L24.4 -38.2L26.4 -38.1L28.4 -37.4L29.9 -36.1L30.9 -34.7L32.6 -30.1L34.1 -21.1L34.0 -17.1L32.6 -14.1L29.9 -11.9L26.9 -11.0M-43.6 -8.0L-36.1 0.3L-32.1 4.0L-28.1 6.3L-23.6 7.3L-16.1 7.9L-6.3 6.4L-5.2 4.9L-3.9 -0.6L-2.3 -3.6L0.4 -5.8L3.9 -6.8L7.9 -6.5L15.9 -3.9L22.4 -4.0L25.4 -3.6L29.4 -1.9L33.9 1.1L38.1 4.9L41.1 9.4L42.2 13.9L41.8 18.9L39.2 25.9L34.8 33.4L29.4 39.9L24.1 43.9M14.1 43.9L12.9 42.2L9.1 33.9L6.0 29.4L3.9 27.4L1.4 25.5L-0.6 24.6L-2.6 24.2L-4.1 24.5L-5.6 25.3L-7.1 26.8L-8.4 28.9L-10.0 32.9L-12.9 43.9M-12.6 -21.0L-16.1 -20.8L-19.6 -22.1L-22.7 -24.6L-24.8 -28.1L-25.2 -31.6L-24.1 -35.1L-22.1 -37.6L-19.1 -39.5L-15.1 -40.0L-11.6 -39.0L-8.6 -36.7L-6.8 -33.6L-6.2 -30.1L-7.2 -26.1L-9.6 -22.7L-12.6 -21.0M25.9 -22.0L24.4 -22.6L23.4 -24.6L23.5 -26.6L24.1 -27.6L24.9 -28.0L26.4 -27.6L27.6 -25.6L27.4 -23.3L26.9 -22.5L25.9 -22.0M19.4 36.0L17.4 35.9L15.9 35.4L12.9 33.2L5.8 24.4L2.9 19.9L2.3 16.4L3.8 10.9L3.9 8.9L1.3 3.4L1.0 0.9L1.6 -1.1L3.4 -2.8L5.4 -3.2L7.8 -2.6L9.4 -1.5L12.4 1.5L13.9 2.3L21.9 3.1L25.9 4.4L30.0 7.4L32.6 11.4L33.6 14.9L33.6 18.4L32.8 21.9L31.1 25.9L28.5 29.9L25.6 32.9L22.4 35.1L19.4 36.0M-21.6 43.5L-25.1 43.8L-28.6 43.0L-31.6 41.3L-34.3 38.4L-35.9 34.9L-36.5 31.4L-36.3 27.4L-35.3 23.9L-33.0 19.9L-31.6 18.6L-29.6 17.4L-27.1 16.5L-23.6 16.2L-16.1 17.2L-15.1 16.5L-13.9 13.4L-12.6 11.9L-10.6 10.9L-8.6 11.2L-7.4 11.9L-6.7 12.9L-6.5 15.4L-8.1 17.7L-11.6 19.8L-12.1 20.4L-11.9 24.4L-12.1 27.4L-13.3 32.9L-14.6 36.9L-15.9 39.4L-17.6 41.4L-19.6 42.8L-21.6 43.5M-13.6 -23.9L-16.1 -23.8L-18.6 -24.7L-20.6 -26.4L-21.7 -28.6L-22.0 -31.1L-21.2 -33.6L-19.6 -35.5L-17.6 -36.6L-15.1 -36.9L-12.6 -36.2L-10.4 -34.6L-9.1 -32.1L-8.9 -29.6L-9.7 -27.1L-11.3 -25.1L-13.6 -23.9M20.4 30.1L18.4 30.4L16.9 30.3L14.9 29.5L13.4 28.5L11.4 26.5L9.7 23.9L8.4 21.4L7.9 19.4L8.3 15.4L10.4 11.3L13.1 8.9L16.9 7.6L20.9 7.7L24.4 9.1L27.3 11.9L28.6 15.4L28.6 19.4L26.9 24.0L23.9 27.9L20.4 30.1M-22.1 39.0L-25.6 39.2L-28.6 38.0L-30.8 35.4L-31.8 32.4L-31.6 28.9L-30.2 25.9L-27.6 23.6L-24.6 22.5L-21.6 22.7L-19.1 23.9L-17.3 25.9L-16.6 28.4L-16.7 31.9L-17.7 34.9L-19.6 37.5L-22.1 39.0M-14.1 -27.5L-16.4 -27.6L-18.0 -29.1L-18.2 -30.1L-18.1 -31.3L-16.6 -33.0L-15.6 -33.2L-14.2 -33.1L-12.6 -31.6L-12.3 -30.6L-12.5 -29.1L-14.1 -27.5M19.9 24.5L17.4 24.9L15.4 24.1L13.9 22.4L12.9 19.9L13.0 17.4L13.9 15.3L15.9 13.4L17.9 12.7L19.9 12.8L21.6 13.4L23.0 14.9L23.8 16.9L23.8 18.9L23.0 21.4L21.5 23.4L19.9 24.5M-24.1 32.1L-24.6 31.9L-24.7 31.4L-24.6 30.9L-24.1 30.7L-23.5 31.4L-24.1 32.1" fill="none" stroke="#1a0d00" stroke-opacity="0.42" stroke-width="0.65" stroke-linejoin="round"/></g><circle r="40.70" fill="none" stroke="#111" stroke-width="1.1"/><circle cx="0" cy="0" r="17" fill="none" stroke="#000" stroke-width="1.7" stroke-dasharray="4.6 2.1"/></g>
<g transform="translate(426.1 396.5)"><path d="M-40.35 9.47 A41.45 41.45 0 0 1 -40.25 -9.89 M40.35 -9.47 A41.45 41.45 0 0 1 40.25 9.89" fill="none" stroke="#1c1c1c" stroke-width="1.7"/><path d="M-8.22 -40.42 A41.25 41.25 0 0 1 8.22 -40.42" fill="none" stroke="#1a1a1a" stroke-width="1.3"/><path d="M-39.3 -9.9l-2.4 -0.6M-39.3 9.9l-2.4 0.6M39.3 -9.9l2.4 -0.6M39.3 9.9l2.4 0.6M-8.3 -40.1l-0.6 -1.4M8.3 -40.1l0.6 -1.4" fill="none" stroke="#222" stroke-width="0.7"/><g clip-path="url(#hc)"><g filter="url(#jet)"><rect x="-60" y="-60" width="120" height="120" fill="#a3a3a3"/><g filter="url(#b7)"><ellipse cx="52" cy="-4" rx="24" ry="36" fill="#ebebeb"/></g><g filter="url(#b5)"><polygon points="-24,50 -13,33 5,29 22,26 34,13 50,5 50,50" fill="#e3e3e3"/><ellipse cx="-42" cy="-12" rx="9" ry="16" fill="#bfbfbf" transform="rotate(10 -42 -12)"/><ellipse cx="-14" cy="-34" rx="10" ry="6" fill="#919191"/><ellipse cx="14" cy="15" rx="12" ry="5" fill="#8f8f8f" transform="rotate(-25 14 15)"/><ellipse cx="2" cy="-11" rx="13" ry="19" fill="#bdbdbd" transform="rotate(-10 2 -11)"/></g><g filter="url(#b3)"><ellipse cx="-16" cy="10" rx="17" ry="10" fill="#858585" transform="rotate(30 -16 10)"/><ellipse cx="-17" cy="9" rx="12" ry="6" fill="#545454" transform="rotate(30 -17 9)"/><ellipse cx="2" cy="-10" rx="7" ry="13" fill="#e3e3e3" transform="rotate(-10 2 -10)"/></g></g><path d="M-10.8 14.2L-10.0 13.8L-9.5 12.8L-9.6 10.8L-11.0 8.8L-13.4 6.7L-16.7 4.8L-20.4 3.6L-22.8 3.8L-24.2 4.8L-24.6 6.2L-24.1 7.8L-22.9 9.5L-20.4 11.6L-17.6 13.2L-14.9 14.3L-12.9 14.6L-10.8 14.2M-9.1 17.8L-7.4 16.9L-6.2 15.8L-5.6 14.2L-5.4 12.8L-6.6 9.2L-9.9 5.6L-14.4 2.5L-19.4 0.7L-21.9 0.4L-23.9 0.6L-25.5 1.2L-26.9 2.3L-28.0 4.2L-27.9 7.2L-26.4 10.1L-23.9 12.9L-20.4 15.4L-16.3 17.2L-12.4 18.1L-9.1 17.8M-6.6 21.2L-4.3 20.2L-2.6 18.8L-1.4 16.8L-1.1 14.8L-1.6 12.2L-2.8 9.8L-4.6 7.2L-7.4 4.3L-13.4 -0.0L-18.9 -2.1L-21.9 -2.5L-24.4 -2.3L-26.9 -1.5L-29.3 0.2L-31.0 3.2L-31.3 5.2L-31.2 7.2L-29.8 10.8L-26.4 14.8L-21.4 18.5L-16.9 20.6L-11.9 21.7L-6.6 21.2M-25.7 43.8L-20.3 34.2L-17.2 30.8L-15.1 29.2L-11.4 27.7L-0.9 25.2L12.6 23.4L16.7 22.2L19.7 20.8L21.9 18.8L23.6 16.2L24.5 13.8L24.7 11.2L24.0 7.8L19.6 -0.3L18.1 -1.5L17.1 -1.0L10.6 5.4L8.1 7.0L5.1 8.1L3.1 8.2L1.1 7.6L-4.4 3.0L-10.7 -3.8L-12.9 -8.2L-13.4 -11.2L-13.3 -16.2L-12.4 -19.8L-11.2 -21.8L-8.1 -25.2L-2.4 -29.5L1.6 -30.8L4.6 -30.5L7.5 -29.2L10.6 -26.8L13.3 -23.2L17.9 -14.8L18.6 -14.1L19.1 -14.2L20.1 -15.2L21.6 -18.3L24.9 -27.2L26.1 -29.7L35.6 -40.4L38.2 -43.8M-43.9 -30.7L-40.4 -28.7L-31.9 -22.4L-30.7 -19.8L-30.1 -14.8L-31.0 -8.2L-32.1 -5.8L-35.9 0.2L-38.9 3.6L-43.9 4.3M-17.4 43.8L-14.4 36.3L-10.4 33.2L-3.4 30.8L17.6 26.6L22.1 24.4L25.6 21.2L28.5 16.2L29.4 12.2L29.4 8.8L27.6 -1.2L27.4 -5.8L28.0 -12.2L30.0 -20.2L31.1 -22.9L32.1 -24.1L42.1 -31.7L43.6 -32.5M4.6 3.3L2.6 3.4L1.1 3.0L-0.4 2.2L-2.4 0.3L-5.0 -3.8L-6.5 -8.8L-6.9 -14.2L-5.8 -18.8L-4.7 -20.8L-3.4 -22.2L-1.9 -23.2L-0.4 -23.7L1.6 -23.8L3.1 -23.4L5.0 -22.2L6.5 -20.8L9.0 -16.8L10.5 -11.8L10.8 -6.8L9.8 -1.8L7.6 1.6L6.1 2.7L4.6 3.3M-9.0 43.8L-8.1 39.2L-7.3 38.2L-5.9 37.4L-0.4 35.8L16.1 32.6L20.1 31.5L25.1 29.2L29.2 25.8L32.7 20.2L34.0 17.2L34.9 13.2L35.0 9.8L33.8 -0.2L33.7 -6.2L34.2 -11.8L35.0 -15.2L36.1 -17.0L43.6 -20.6M4.1 -1.2L2.1 -1.2L0.3 -2.8L-1.4 -5.5L-2.4 -9.2L-2.7 -12.8L-2.3 -15.8L-1.4 -17.9L-0.4 -18.7L0.6 -19.1L2.2 -18.8L4.1 -16.8L5.4 -14.2L6.4 -10.8L6.7 -7.2L6.3 -4.2L5.4 -2.2L4.1 -1.2" fill="none" stroke="#1a0d00" stroke-opacity="0.55" stroke-width="0.55" stroke-linejoin="round"/></g><circle r="40.70" fill="none" stroke="#111" stroke-width="1.1"/><circle cx="0" cy="0" r="17" fill="none" stroke="#000" stroke-width="1.7" stroke-dasharray="4.6 2.1"/></g>
<g transform="translate(543.5 399.6)"><path d="M-40.35 9.47 A41.45 41.45 0 0 1 -40.25 -9.89 M40.35 -9.47 A41.45 41.45 0 0 1 40.25 9.89" fill="none" stroke="#1c1c1c" stroke-width="1.7"/><path d="M-8.22 -40.42 A41.25 41.25 0 0 1 8.22 -40.42" fill="none" stroke="#1a1a1a" stroke-width="1.3"/><path d="M-39.3 -9.9l-2.4 -0.6M-39.3 9.9l-2.4 0.6M39.3 -9.9l2.4 -0.6M39.3 9.9l2.4 0.6M-8.3 -40.1l-0.6 -1.4M8.3 -40.1l0.6 -1.4" fill="none" stroke="#222" stroke-width="0.7"/><g clip-path="url(#hc)"><g filter="url(#jet)"><rect x="-60" y="-60" width="120" height="120" fill="#ffffff"/><g filter="url(#b5)"><ellipse cx="-23" cy="-8" rx="6" ry="12" fill="#f6f6f6" transform="rotate(-15 -23 -8)"/></g><g filter="url(#b3)"><ellipse cx="-24" cy="1.5" rx="6" ry="5.5" fill="#e6e6e6"/></g></g><path d="M23.0 -19.4L24.2 -20.4L24.7 -21.4L25.0 -22.9L24.8 -24.6L23.2 -27.4L21.8 -28.1L20.8 -28.1L19.8 -27.4L18.9 -25.9L18.6 -23.9L18.8 -21.4L19.2 -20.3L20.2 -19.2L21.8 -18.9L23.0 -19.4M13.3 7.6L14.7 6.6L15.3 5.1L15.4 2.6L14.8 -0.9L13.9 -4.4L12.9 -6.4L11.8 -7.3L10.2 -7.4L8.2 -6.5L6.7 -4.9L5.8 -2.4L5.9 0.6L7.1 4.1L8.8 6.3L11.2 7.7L13.3 7.6M43.8 -3.1L41.2 -2.4L38.9 0.1L36.8 5.2L35.8 10.1L36.5 13.6L38.2 16.1L40.8 17.3L43.8 16.9M17.1 14.6L18.8 14.1L20.6 13.1L21.5 12.1L21.9 10.6L21.6 8.6L19.2 2.1L18.5 -1.4L18.4 -4.9L19.2 -8.1L20.6 -9.9L22.2 -11.0L25.2 -12.2L31.8 -13.7L32.8 -14.4L33.1 -15.4L32.9 -17.9L31.6 -22.4L29.9 -26.9L28.0 -30.4L26.2 -32.8L24.2 -34.6L22.2 -35.7L20.2 -36.2L18.8 -36.0L17.2 -35.3L15.4 -32.9L14.5 -29.9L13.3 -21.9L11.8 -17.8L9.2 -15.1L4.1 -11.9L2.3 -10.4L1.3 -8.4L0.9 -5.9L1.3 -1.4L3.6 3.1L4.8 7.6L5.8 9.6L8.2 12.1L11.2 13.9L14.2 14.7L17.1 14.6M-37.1 -1.4L-35.2 -2.6L-30.2 -7.5L-24.0 -11.9L-22.4 -13.4L-21.4 -14.9L-21.1 -16.4L-21.5 -17.9L-22.3 -18.9L-23.8 -19.9L-26.2 -20.7L-30.8 -20.8L-35.2 -19.1L-39.2 -15.9L-40.6 -13.9L-41.8 -11.4L-42.4 -8.9L-42.4 -6.4L-41.8 -4.2L-40.5 -2.4L-38.8 -1.3L-37.1 -1.4M43.8 -11.5L38.2 -11.9L36.8 -11.5L36.1 -10.9L34.9 -3.4L33.9 0.6L32.2 4.7L28.8 10.6L28.3 12.6L28.7 14.6L30.0 17.1L32.2 20.1L34.4 22.1L36.2 23.3L38.8 24.3L41.2 24.6L43.8 24.3M-2.6 38.6L-0.1 37.6L2.2 35.7L3.5 33.6L4.2 31.1L3.9 29.1L2.7 27.1L0.8 25.8L-1.8 25.1L-4.8 25.5L-7.2 27.1L-9.0 29.6L-9.7 32.6L-9.2 35.6L-7.8 37.6L-5.2 38.7L-2.6 38.6M6.8 -43.9L9.1 -38.4L10.4 -33.4L10.9 -28.4L10.5 -24.4L9.2 -21.2L7.2 -18.9L4.2 -17.2L0.2 -16.5L-2.2 -16.9L-4.8 -18.0L-11.8 -24.1L-19.9 -28.9L-23.6 -31.9L-25.6 -34.4L-27.0 -37.4L-27.6 -40.4L-27.3 -43.9M-43.8 8.7L-36.2 8.6L-34.8 8.2L-33.9 7.6L-33.2 6.6L-32.3 1.1L-31.1 -1.9L-29.2 -4.4L-26.2 -6.5L-22.8 -7.7L-13.8 -9.6L-9.8 -9.7L-7.8 -8.9L-6.2 -7.7L-4.8 -5.5L-2.7 -0.4L0.8 2.2L2.0 3.6L2.5 6.1L1.7 10.6L4.2 17.1L3.8 18.6L2.8 19.4L-5.2 21.3L-7.2 22.2L-9.4 23.6L-12.1 27.1L-17.0 36.6L-18.8 38.6L-20.8 39.9L-24.8 41.0L-35.2 42.5L-39.8 42.4L-43.8 41.6M27.2 3.2L25.8 3.4L24.0 2.6L22.8 1.1L22.0 -1.4L22.0 -3.4L22.7 -5.4L24.2 -6.7L25.8 -7.3L27.8 -7.1L29.1 -6.4L30.2 -4.9L30.5 -3.4L30.5 -1.4L29.8 0.6L28.8 2.1L27.2 3.2M-3.4 -43.9L0.4 -38.9L5.7 -33.4L7.4 -29.9L7.7 -26.9L7.1 -24.4L5.8 -22.3L3.2 -20.9L0.2 -20.8L-2.2 -21.9L-4.2 -23.6L-8.8 -28.7L-14.8 -32.7L-16.6 -34.4L-18.0 -36.4L-18.7 -38.9L-18.6 -41.4L-17.5 -43.9M-43.8 18.3L-41.8 16.9L-38.8 16.1L-29.8 16.9L-26.2 16.6L-22.8 15.4L-20.4 13.6L-20.2 12.6L-20.5 12.1L-25.2 9.8L-27.2 8.4L-28.8 6.6L-29.6 4.6L-29.9 1.6L-29.3 -0.9L-27.9 -2.9L-25.8 -4.5L-23.8 -5.2L-21.8 -5.5L-17.2 -4.9L-11.8 -2.7L-10.2 -1.5L-9.0 0.1L-6.1 8.6L-5.4 11.6L-5.5 13.6L-6.5 15.1L-12.2 19.4L-17.1 27.1L-19.2 29.6L-21.2 30.8L-23.8 31.4L-36.8 31.6L-40.8 30.7L-43.8 28.5M-0.8 7.2L-2.2 7.3L-3.5 6.1L-3.1 4.6L-1.8 3.7L-0.2 4.0L0.6 5.1L0.2 6.5L-0.8 7.2M1.8 -26.5L0.8 -26.6L-0.0 -27.4L-0.3 -28.4L0.2 -29.3L1.2 -29.3L2.3 -28.4L2.4 -27.4L1.8 -26.5M-20.8 6.7L-22.8 7.0L-24.8 6.5L-26.7 5.1L-27.6 3.6L-28.0 1.6L-27.5 -0.4L-26.4 -1.9L-24.8 -3.0L-22.8 -3.4L-20.2 -3.1L-18.1 -1.9L-16.7 0.1L-16.4 2.1L-17.1 4.1L-18.8 5.8L-20.8 6.7M-22.2 4.2L-24.2 3.9L-25.2 3.1L-25.7 2.1L-25.3 0.1L-23.8 -1.1L-22.8 -1.2L-21.4 -0.9L-20.1 0.6L-20.2 2.7L-21.1 3.6L-22.2 4.2" fill="none" stroke="#1a0d00" stroke-opacity="0.42" stroke-width="0.65" stroke-linejoin="round"/></g><circle r="40.70" fill="none" stroke="#111" stroke-width="1.1"/><circle cx="0" cy="0" r="17" fill="none" stroke="#000" stroke-width="1.7" stroke-dasharray="4.6 2.1"/></g>
<g transform="translate(135.3 498.0)"><path d="M-40.35 9.47 A41.45 41.45 0 0 1 -40.25 -9.89 M40.35 -9.47 A41.45 41.45 0 0 1 40.25 9.89" fill="none" stroke="#1c1c1c" stroke-width="1.7"/><path d="M-8.22 -40.42 A41.25 41.25 0 0 1 8.22 -40.42" fill="none" stroke="#1a1a1a" stroke-width="1.3"/><path d="M-39.3 -9.9l-2.4 -0.6M-39.3 9.9l-2.4 0.6M39.3 -9.9l2.4 -0.6M39.3 9.9l2.4 0.6M-8.3 -40.1l-0.6 -1.4M8.3 -40.1l0.6 -1.4" fill="none" stroke="#222" stroke-width="0.7"/><g clip-path="url(#hc)"><g filter="url(#jet)"><rect x="-60" y="-60" width="120" height="120" fill="#494949"/><g filter="url(#b5)"><ellipse cx="-27" cy="-8" rx="12" ry="12" fill="#171717"/><ellipse cx="-22" cy="-30" rx="12" ry="9" fill="#292929"/><ellipse cx="-2" cy="-38" rx="14" ry="5" fill="#303030"/><ellipse cx="21" cy="8" rx="8" ry="10" fill="#171717" transform="rotate(-10 21 8)"/><ellipse cx="28" cy="-24" rx="8" ry="8" fill="#3d3d3d"/></g><g filter="url(#b3)"><polygon points="-60,4 -50,4 -30,11 -10,14 8,15 22,10 32,1 40,-7 50,-13 60,-13 60,60 -60,60" fill="#4c4c4c"/><polygon points="-60,8 -50,8 -30,15 -10,18 8,19 22,14 32,5 40,-3 50,-9 60,-9 60,60 -60,60" fill="#5d5d5d"/><polygon points="-60,14 -50,14 -30,21 -10,24 8,25 22,20 32,11 40,3 50,-3 60,-3 60,60 -60,60" fill="#707070"/><polygon points="-60,17 -50,17 -30,24 -10,27 8,28 22,23 32,14 40,6 50,0 60,0 60,60 -60,60" fill="#808080"/><polygon points="-60,20 -50,20 -30,27 -10,30 8,31 22,26 32,17 40,9 50,3 60,3 60,60 -60,60" fill="#919191"/><polygon points="-60,23 -50,23 -30,30 -10,33 8,34 22,29 32,20 40,12 50,6 60,6 60,60 -60,60" fill="#a1a1a1"/><ellipse cx="-8" cy="41" rx="17" ry="9" fill="#cccccc"/></g></g><path d="M-24.7 0.2L-22.1 -1.0L-20.1 -3.0L-18.7 -5.8L-18.4 -8.8L-19.6 -12.7L-21.6 -16.0L-23.6 -17.9L-26.1 -18.6L-28.1 -18.1L-29.6 -17.3L-33.5 -13.8L-35.3 -10.2L-35.6 -7.2L-35.1 -5.2L-34.1 -3.2L-31.6 -0.8L-28.1 0.5L-24.7 0.2M19.8 7.2L21.3 6.2L22.0 4.8L21.8 3.8L20.4 3.0L18.4 3.6L17.5 4.8L17.2 5.8L17.4 6.8L17.9 7.2L19.8 7.2M-43.6 5.6L-39.6 5.2L-32.6 8.2L-26.6 9.5L-19.6 8.8L-17.1 7.9L-15.3 6.8L-11.3 1.8L-9.0 -3.8L-8.7 -5.8L-8.7 -10.8L-9.6 -16.8L-9.2 -18.8L-8.1 -21.2L-4.9 -25.2L-2.6 -26.8L-1.1 -27.5L7.4 -29.4L11.6 -31.8L13.7 -34.8L16.9 -43.8M30.6 -43.8L27.4 -38.7L22.4 -31.6L20.9 -30.1L19.0 -26.8L18.7 -25.2L18.7 -22.8L20.4 -18.6L22.9 -16.1L24.4 -15.3L26.9 -14.8L30.4 -14.9L39.3 -19.8L43.9 -21.8M17.0 13.2L20.9 12.0L24.3 9.8L27.6 6.2L30.2 1.8L31.1 -1.2L30.6 -3.8L29.4 -5.2L25.9 -7.2L20.4 -8.1L15.4 -7.0L12.9 -5.7L11.2 -4.2L9.4 -2.3L8.0 0.2L6.7 4.2L6.3 7.8L6.9 11.0L8.9 12.7L10.9 13.4L13.4 13.6L17.0 13.2M-43.6 22.0L-36.1 18.4L-34.6 18.1L-27.1 20.0L-10.6 22.4L1.4 23.2L6.4 23.3L8.9 22.9L17.4 20.2L22.2 17.8L26.9 14.0L38.4 3.3L40.4 2.7L43.9 3.0M-43.6 37.1L-30.6 26.2L-29.6 25.8L-18.1 27.4L-4.1 28.3L4.9 29.2L7.9 29.2L10.9 28.5L18.4 25.9L22.9 23.5L27.4 19.8L37.4 10.6L38.9 10.3L43.9 11.4M-29.8 43.8L-24.7 35.8L-22.1 32.4L-17.1 31.5L-9.6 31.1L-0.6 31.9L12.9 35.4L15.4 35.1L20.9 33.2L22.4 33.2L28.2 41.2L29.5 43.8M-21.0 43.8L-20.0 41.2L-17.1 35.7L-14.6 34.7L-8.6 34.3L-1.1 35.1L2.4 36.2L4.4 37.2L5.9 38.8L6.9 43.8" fill="none" stroke="#1a0d00" stroke-opacity="0.55" stroke-width="0.55" stroke-linejoin="round"/></g><circle r="40.70" fill="none" stroke="#111" stroke-width="1.1"/><circle cx="0" cy="0" r="17" fill="none" stroke="#000" stroke-width="1.7" stroke-dasharray="4.6 2.1"/></g>
<g transform="translate(254.3 498.0)"><path d="M-40.35 9.47 A41.45 41.45 0 0 1 -40.25 -9.89 M40.35 -9.47 A41.45 41.45 0 0 1 40.25 9.89" fill="none" stroke="#1c1c1c" stroke-width="1.7"/><path d="M-8.22 -40.42 A41.25 41.25 0 0 1 8.22 -40.42" fill="none" stroke="#1a1a1a" stroke-width="1.3"/><path d="M-39.3 -9.9l-2.4 -0.6M-39.3 9.9l-2.4 0.6M39.3 -9.9l2.4 -0.6M39.3 9.9l2.4 0.6M-8.3 -40.1l-0.6 -1.4M8.3 -40.1l0.6 -1.4" fill="none" stroke="#222" stroke-width="0.7"/><g clip-path="url(#hc)"><g filter="url(#jet)"><rect x="-60" y="-60" width="120" height="120" fill="#dedede"/><g filter="url(#b7)"><ellipse cx="-30" cy="-12" rx="13" ry="30" fill="#c3c3c3" transform="rotate(-22 -30 -12)"/><ellipse cx="-38" cy="6" rx="10" ry="12" fill="#c7c7c7"/><ellipse cx="28" cy="-26" rx="17" ry="15" fill="#f0f0f0" transform="rotate(-30 28 -26)"/><ellipse cx="24" cy="4" rx="13" ry="12" fill="#d4d4d4"/><polygon points="-50,24 -10,26 5,30 20,24 50,16 50,50 -50,50" fill="#ececec"/></g><g filter="url(#b3)"><ellipse cx="23.5" cy="4" rx="6" ry="6" fill="#bdbdbd"/></g></g><path d="M24.1 7.2L25.3 6.8L26.2 5.8L26.6 4.8L26.6 3.2L25.4 1.5L23.9 0.9L22.9 0.9L20.9 2.2L20.4 3.2L20.4 4.8L20.8 5.8L21.9 6.8L22.9 7.2L24.1 7.2M-43.6 10.0L-38.6 9.1L-35.6 10.1L-30.1 10.9L-24.6 10.4L-22.1 9.5L-19.7 7.8L-18.4 5.2L-17.5 1.8L-17.6 -2.2L-19.1 -9.4L-21.6 -16.8L-24.8 -23.2L-28.6 -28.4L-42.1 -41.9L-43.6 -43.0M24.3 9.8L26.4 9.0L28.4 7.2L29.3 5.2L29.3 3.2L28.5 1.2L26.9 -0.4L24.9 -1.4L22.9 -1.6L20.4 -0.8L19.1 0.2L18.0 2.2L17.7 4.8L18.3 6.8L19.9 8.6L22.4 9.7L24.3 9.8M-43.6 19.5L-35.6 16.2L-25.1 16.0L-21.6 15.4L-17.6 13.9L-15.7 12.2L-13.5 9.2L-12.7 7.2L-11.7 2.8L-11.6 0.8L-12.7 -6.8L-15.8 -17.2L-18.6 -23.1L-21.6 -28.2L-31.3 -41.2L-32.7 -43.8M26.4 11.8L28.9 10.2L31.4 7.2L32.1 4.2L31.4 0.8L28.7 -2.2L26.4 -3.3L22.9 -3.8L18.9 -2.7L16.9 -1.1L15.5 1.2L15.0 4.8L15.8 7.8L17.4 9.9L20.4 11.8L22.9 12.2L26.4 11.8M-43.6 27.0L-33.1 20.9L-22.1 20.4L-18.1 19.8L-13.6 18.6L-7.6 15.3L-4.6 11.0L-3.8 6.8L-3.2 5.2L-3.5 2.8L-3.2 -0.2L-5.5 -12.2L-8.6 -21.3L-13.1 -30.2L-15.7 -33.8L-19.3 -41.8L-19.9 -43.8M43.9 -2.8L38.4 -2.5L35.8 -3.8L30.4 -5.5L26.9 -6.1L19.9 -6.3L14.9 -5.8L11.4 -4.7L8.9 -3.2L6.7 -0.2L5.9 3.8L7.1 8.2L8.9 12.2L12.4 14.8L16.4 15.9L23.4 15.8L30.4 14.3L35.9 10.8L38.4 9.7L43.9 10.8M43.9 -15.0L32.9 -11.4L27.9 -11.1L23.4 -11.5L18.4 -12.7L14.9 -14.5L12.8 -16.8L10.3 -21.8L10.1 -24.8L10.7 -28.8L13.2 -34.2L15.6 -37.2L18.1 -43.8M-43.6 37.0L-31.1 26.7L-29.6 25.9L-12.1 25.6L-6.1 26.1L-1.6 26.9L1.9 26.7L6.9 26.9L11.9 26.0L33.4 20.8L34.9 21.2L41.9 25.4L43.9 26.2M43.9 -25.4L37.4 -22.0L32.4 -18.8L29.9 -18.1L27.4 -17.6L24.4 -18.1L22.4 -18.8L20.5 -20.2L19.1 -22.2L18.6 -24.2L18.7 -27.2L20.2 -30.2L23.1 -33.8L29.5 -43.8" fill="none" stroke="#1a0d00" stroke-opacity="0.45" stroke-width="0.55" stroke-linejoin="round"/></g><circle r="40.70" fill="none" stroke="#111" stroke-width="1.1"/><circle cx="0" cy="0" r="17" fill="none" stroke="#000" stroke-width="1.7" stroke-dasharray="4.6 2.1"/></g>
<g transform="translate(425.9 498.3)"><path d="M-40.35 9.47 A41.45 41.45 0 0 1 -40.25 -9.89 M40.35 -9.47 A41.45 41.45 0 0 1 40.25 9.89" fill="none" stroke="#1c1c1c" stroke-width="1.7"/><path d="M-8.22 -40.42 A41.25 41.25 0 0 1 8.22 -40.42" fill="none" stroke="#1a1a1a" stroke-width="1.3"/><path d="M-39.3 -9.9l-2.4 -0.6M-39.3 9.9l-2.4 0.6M39.3 -9.9l2.4 -0.6M39.3 9.9l2.4 0.6M-8.3 -40.1l-0.6 -1.4M8.3 -40.1l0.6 -1.4" fill="none" stroke="#222" stroke-width="0.7"/><g clip-path="url(#hc)"><g filter="url(#jet)"><rect x="-60" y="-60" width="120" height="120" fill="#5e5e5e"/><g filter="url(#b4)"><polygon points="-60,0 -50,0 -30,11 -10,16 10,16 30,13 50,4 60,4 60,60 -60,60" fill="#707070"/><polygon points="-60,6 -50,6 -30,17 -10,22 10,22 30,19 50,10 60,10 60,60 -60,60" fill="#8f8f8f"/><polygon points="-60,10.5 -50,10.5 -30,21.5 -10,26.5 10,26.5 30,23.5 50,14.5 60,14.5 60,60 -60,60" fill="#a2a2a2"/><ellipse cx="-2" cy="41" rx="14" ry="10" fill="#cccccc"/></g><g filter="url(#b5)"><ellipse cx="0" cy="-5" rx="22" ry="10" fill="#454545"/><ellipse cx="3" cy="6" rx="10" ry="7" fill="#4c4c4c"/><ellipse cx="-19" cy="-8" rx="9" ry="14" fill="#1a1a1a" transform="rotate(-30 -19 -8)"/><ellipse cx="20" cy="-11" rx="6.5" ry="11" fill="#262626"/></g></g><path d="M-14.2 -0.1L-12.1 -1.3L-10.8 -3.6L-10.7 -6.6L-11.8 -9.1L-14.6 -12.6L-18.1 -15.1L-20.6 -15.9L-23.1 -15.3L-24.8 -13.6L-25.5 -11.1L-25.1 -8.1L-24.0 -5.6L-22.1 -3.0L-19.6 -0.9L-16.6 0.2L-14.2 -0.1M-13.2 6.4L-8.6 5.6L0.9 2.5L7.9 1.7L16.9 1.2L20.4 0.3L22.2 -0.6L24.2 -2.1L25.5 -3.6L26.6 -5.6L27.4 -8.1L27.7 -10.6L27.5 -13.6L26.0 -17.6L24.4 -19.5L22.4 -20.7L20.4 -21.2L18.4 -21.0L14.9 -19.2L9.9 -14.2L7.9 -12.6L5.4 -11.3L2.4 -10.7L-4.1 -12.7L-14.6 -19.9L-18.1 -21.6L-20.1 -22.1L-23.1 -22.1L-26.6 -20.9L-29.6 -18.1L-31.2 -14.1L-31.2 -9.1L-29.6 -4.1L-26.3 0.9L-22.6 4.2L-18.1 6.1L-15.6 6.5L-13.2 6.4M-43.6 5.5L-40.1 5.1L-38.6 5.3L-28.1 10.9L-19.7 13.4L-7.1 16.1L1.9 17.1L8.9 16.6L22.9 13.6L32.2 10.9L38.4 8.4L43.9 9.3M-43.6 16.5L-36.6 14.2L-30.1 17.0L-25.1 18.7L-13.1 21.6L-6.6 22.5L3.4 22.7L11.4 22.4L26.4 20.0L35.4 17.5L43.9 21.1M-43.6 40.2L-40.1 37.4L-29.6 27.8L-28.6 27.2L-21.6 28.7L-18.6 29.0L-5.6 27.8L0.9 27.8L16.4 30.3L18.9 30.3L24.9 29.3L26.6 29.4L31.2 33.9L33.4 36.7L35.4 38.4L36.9 40.5L39.4 42.5L40.5 43.9M-14.3 43.9L-12.4 37.9L-11.0 35.9L-7.1 33.8L-2.1 33.0L2.9 33.7L4.9 34.5L7.0 35.9L8.7 38.4L10.0 43.9" fill="none" stroke="#1a0d00" stroke-opacity="0.55" stroke-width="0.55" stroke-linejoin="round"/></g><circle r="40.70" fill="none" stroke="#111" stroke-width="1.1"/><circle cx="0" cy="0" r="17" fill="none" stroke="#000" stroke-width="1.7" stroke-dasharray="4.6 2.1"/></g>
<g transform="translate(543.7 501.0)"><path d="M-40.35 9.47 A41.45 41.45 0 0 1 -40.25 -9.89 M40.35 -9.47 A41.45 41.45 0 0 1 40.25 9.89" fill="none" stroke="#1c1c1c" stroke-width="1.7"/><path d="M-8.22 -40.42 A41.25 41.25 0 0 1 8.22 -40.42" fill="none" stroke="#1a1a1a" stroke-width="1.3"/><path d="M-39.3 -9.9l-2.4 -0.6M-39.3 9.9l-2.4 0.6M39.3 -9.9l2.4 -0.6M39.3 9.9l2.4 0.6M-8.3 -40.1l-0.6 -1.4M8.3 -40.1l0.6 -1.4" fill="none" stroke="#222" stroke-width="0.7"/><g clip-path="url(#hc)"><g filter="url(#jet)"><rect x="-60" y="-60" width="120" height="120" fill="#dfdfdf"/><g filter="url(#b5)"><ellipse cx="-38" cy="-9" rx="25" ry="24" fill="#ababab"/><ellipse cx="36" cy="-8" rx="21" ry="25" fill="#ababab" transform="rotate(-10 36 -8)"/><ellipse cx="-32" cy="-8" rx="14" ry="16" fill="#999999"/><ellipse cx="31" cy="-7" rx="11" ry="16" fill="#999999" transform="rotate(-15 31 -7)"/><ellipse cx="0" cy="-30" rx="7" ry="12" fill="#d9d9d9"/><ellipse cx="21" cy="29" rx="7" ry="6" fill="#f9f9f9"/><ellipse cx="-15" cy="38" rx="9" ry="5" fill="#ededed"/></g><g filter="url(#b3)"><ellipse cx="-34" cy="-7" rx="10" ry="7.5" fill="#747474"/><ellipse cx="0" cy="5" rx="3.5" ry="10" fill="#f0f0f0"/></g></g><path d="M-44.0 -3.4L-39.0 -2.9L-35.0 -1.8L-32.0 -1.9L-30.0 -2.6L-28.3 -3.8L-27.2 -5.2L-26.8 -7.2L-27.2 -8.8L-28.0 -10.0L-30.6 -11.8L-34.0 -12.4L-38.0 -12.0L-44.0 -13.7M-44.0 1.0L-39.5 1.1L-34.5 2.2L-31.5 2.0L-29.5 1.4L-27.0 0.1L-24.6 -2.2L-23.3 -4.8L-22.9 -7.2L-23.4 -9.8L-24.3 -11.8L-26.0 -13.7L-28.0 -15.1L-31.5 -16.4L-36.4 -16.8L-44.0 -20.0M-44.0 7.6L-39.0 6.8L-35.0 7.2L-32.0 7.0L-29.5 6.4L-26.5 5.0L-23.6 2.8L-21.2 -0.2L-19.7 -3.8L-19.1 -8.2L-19.5 -11.8L-20.5 -14.7L-21.9 -17.2L-24.0 -19.8L-27.0 -22.1L-32.0 -24.4L-43.0 -33.0L-44.0 -33.4M43.5 -31.0L32.5 -23.4L28.5 -22.4L25.5 -20.5L23.7 -18.2L22.2 -15.2L21.4 -12.2L21.2 -9.2L22.0 -3.8L23.0 -0.9L25.0 2.6L27.5 5.3L30.0 7.0L32.5 8.0L35.5 8.1L39.0 7.4L43.5 8.2M-44.0 14.6L-37.5 12.6L-34.0 12.3L-30.0 11.5L-26.5 10.0L-23.5 8.2L-19.9 4.8L-17.3 0.8L-15.7 -3.2L-15.0 -8.2L-15.1 -11.2L-15.8 -14.8L-17.0 -17.8L-18.7 -20.8L-22.3 -24.8L-28.5 -29.1L-38.0 -38.8L-42.2 -43.8M41.7 -43.8L37.4 -38.8L28.3 -29.2L23.5 -25.7L20.5 -22.2L19.0 -19.8L17.6 -16.2L16.9 -13.2L16.6 -9.2L17.2 -4.2L18.7 0.8L21.2 5.2L24.5 9.1L27.0 11.1L30.0 12.7L32.5 13.6L37.0 14.3L43.5 16.6M-44.0 21.2L-35.5 17.4L-27.5 15.4L-23.5 13.4L-21.0 11.7L-17.6 8.8L-14.5 4.8L-12.2 0.2L-10.9 -4.2L-10.5 -8.2L-10.7 -12.8L-12.0 -17.8L-13.7 -21.2L-18.0 -26.9L-24.2 -32.2L-32.6 -43.8M32.2 -43.8L31.5 -42.2L24.0 -32.3L18.6 -27.2L16.7 -24.8L15.0 -21.8L13.1 -16.8L12.5 -12.8L12.2 -8.8L12.6 -4.8L13.9 0.2L15.8 4.8L18.2 8.8L21.3 12.2L24.5 14.8L27.5 16.5L35.0 19.2L43.5 23.5M1.0 14.3L-1.0 14.3L-3.0 13.0L-4.0 10.8L-4.7 7.2L-4.5 2.2L-3.7 -0.8L-2.4 -3.2L-0.5 -4.3L1.5 -4.0L3.0 -2.6L4.4 0.8L4.8 4.2L4.6 8.2L4.0 11.2L2.7 13.2L1.0 14.3M18.4 43.8L15.6 36.8L12.5 32.8L11.8 29.2L12.2 26.2L13.5 23.7L15.5 22.0L18.0 21.0L20.0 20.9L22.5 21.3L26.4 23.2L41.5 37.1L43.5 38.4M-25.5 43.8L-20.0 34.1L-17.9 32.8L-16.0 32.2L-13.5 32.3L-11.0 33.3L-8.4 35.8L-7.9 38.2L-9.0 43.8" fill="none" stroke="#1a0d00" stroke-opacity="0.55" stroke-width="0.55" stroke-linejoin="round"/></g><circle r="40.70" fill="none" stroke="#111" stroke-width="1.1"/><circle cx="0" cy="0" r="17" fill="none" stroke="#000" stroke-width="1.7" stroke-dasharray="4.6 2.1"/></g>
<g transform="translate(135.6 646.5)"><path d="M-40.35 9.47 A41.45 41.45 0 0 1 -40.25 -9.89 M40.35 -9.47 A41.45 41.45 0 0 1 40.25 9.89" fill="none" stroke="#1c1c1c" stroke-width="1.7"/><path d="M-8.22 -40.42 A41.25 41.25 0 0 1 8.22 -40.42" fill="none" stroke="#1a1a1a" stroke-width="1.3"/><path d="M-39.3 -9.9l-2.4 -0.6M-39.3 9.9l-2.4 0.6M39.3 -9.9l2.4 -0.6M39.3 9.9l2.4 0.6M-8.3 -40.1l-0.6 -1.4M8.3 -40.1l0.6 -1.4" fill="none" stroke="#222" stroke-width="0.7"/><g clip-path="url(#hc)"><g filter="url(#jet)"><rect x="-60" y="-60" width="120" height="120" fill="#808080"/><g filter="url(#b5)"><ellipse cx="10" cy="-32" rx="28" ry="13" fill="#626262" transform="rotate(12 10 -32)"/><ellipse cx="24" cy="-8" rx="10" ry="12" fill="#707070"/><ellipse cx="-44" cy="0" rx="9" ry="20" fill="#a6a6a6"/><polygon points="-28,50 -14,30 4,24 20,13 34,0 50,-12 50,50" fill="#a6a6a6"/><ellipse cx="0" cy="42" rx="14" ry="9" fill="#d1d1d1"/><ellipse cx="35" cy="24" rx="11" ry="11" fill="#d4d4d4"/><ellipse cx="-17" cy="7" rx="11" ry="18" fill="#666666" transform="rotate(-30 -17 7)"/></g><g filter="url(#b3)"><ellipse cx="-17" cy="8" rx="6" ry="12" fill="#333333" transform="rotate(-30 -17 8)"/><ellipse cx="1" cy="-2" rx="7.5" ry="11.5" fill="#a3a3a3"/><ellipse cx="20" cy="0" rx="3.5" ry="6" fill="#636363"/></g></g><path d="M-12.7 15.2L-11.7 13.8L-11.5 11.8L-12.3 8.4L-13.8 5.4L-15.8 2.8L-17.8 1.0L-19.8 0.3L-21.3 0.8L-22.4 2.2L-22.5 4.2L-21.8 7.1L-20.3 10.3L-18.3 13.0L-16.3 14.8L-14.3 15.6L-12.7 15.2M-13.4 19.2L-11.8 19.0L-10.4 18.2L-8.5 15.8L-8.0 12.2L-9.0 8.2L-11.7 2.8L-14.8 -1.1L-16.8 -2.5L-18.8 -3.3L-20.8 -3.6L-22.3 -3.3L-24.5 -1.8L-25.8 1.2L-25.8 4.8L-24.7 8.8L-22.2 13.2L-19.7 16.2L-16.3 18.6L-13.4 19.2M-21.7 -43.8L-17.8 -35.6L-16.1 -30.8L-12.3 -26.5L-8.3 -23.6L-3.8 -21.3L-0.8 -20.0L9.2 -17.0L12.9 -15.2L14.8 -13.8L15.7 -12.2L16.0 -9.8L14.8 -2.2L15.1 0.8L16.6 3.8L18.7 4.9L20.2 5.0L21.7 4.5L23.2 3.2L24.7 1.2L28.9 -6.2L29.7 -8.2L31.4 -15.2L33.7 -19.0L35.2 -20.3L43.7 -24.9M-11.3 22.8L-7.8 21.2L-6.0 19.8L-4.8 18.2L-3.4 14.8L-4.3 11.2L-6.8 6.3L-10.8 -3.1L-12.8 -6.1L-15.8 -8.1L-19.3 -9.2L-22.3 -9.3L-24.8 -8.6L-26.3 -7.4L-27.8 -5.4L-28.6 -3.8L-29.3 -0.8L-29.6 2.8L-29.2 6.8L-27.6 12.8L-24.8 17.2L-22.8 19.4L-20.3 21.4L-16.3 22.9L-14.3 23.1L-11.3 22.8M-43.8 -16.0L-37.8 -14.0L-36.3 -12.8L-35.3 -9.2L-34.9 -3.8L-35.3 7.8L-36.3 12.2L-37.8 13.8L-43.8 15.9M2.2 8.8L0.7 8.8L-0.8 8.2L-3.3 6.0L-5.3 2.2L-6.0 -1.8L-5.9 -6.2L-4.8 -9.2L-2.7 -11.8L0.2 -12.9L3.2 -12.5L5.7 -10.7L7.7 -7.2L8.6 -3.2L8.3 1.8L6.9 5.2L4.8 7.8L2.2 8.8M-24.4 43.8L-19.2 34.2L-15.8 30.8L-12.3 28.8L-0.3 24.0L5.8 20.8L25.2 7.7L29.4 4.2L38.6 -4.2L43.7 -5.2M-16.5 43.8L-13.8 36.7L-12.2 34.8L-9.4 32.8L-4.3 30.8L3.2 29.3L9.2 29.1L14.2 29.7L15.7 29.5L16.7 28.6L18.2 23.8L20.5 19.2L23.8 15.2L27.2 12.4L32.7 9.1L36.7 7.7L38.7 7.4L43.7 8.3M43.3 43.8L28.2 28.4L27.2 26.7L26.6 23.8L27.2 21.2L28.7 18.8L30.7 17.0L33.2 15.9L36.2 15.8L43.7 18.8M-8.7 43.8L-7.8 39.4L-6.7 37.8L-3.3 36.2L1.2 35.7L4.7 36.3L7.7 38.1L8.6 39.8L9.3 43.8" fill="none" stroke="#1a0d00" stroke-opacity="0.55" stroke-width="0.55" stroke-linejoin="round"/></g><circle r="40.70" fill="none" stroke="#111" stroke-width="1.1"/><circle cx="0" cy="0" r="17" fill="none" stroke="#000" stroke-width="1.7" stroke-dasharray="4.6 2.1"/></g>
<g transform="translate(254.3 646.3)"><path d="M-40.35 9.47 A41.45 41.45 0 0 1 -40.25 -9.89 M40.35 -9.47 A41.45 41.45 0 0 1 40.25 9.89" fill="none" stroke="#1c1c1c" stroke-width="1.7"/><path d="M-8.22 -40.42 A41.25 41.25 0 0 1 8.22 -40.42" fill="none" stroke="#1a1a1a" stroke-width="1.3"/><path d="M-39.3 -9.9l-2.4 -0.6M-39.3 9.9l-2.4 0.6M39.3 -9.9l2.4 -0.6M39.3 9.9l2.4 0.6M-8.3 -40.1l-0.6 -1.4M8.3 -40.1l0.6 -1.4" fill="none" stroke="#222" stroke-width="0.7"/><g clip-path="url(#hc)"><g filter="url(#jet)"><rect x="-60" y="-60" width="120" height="120" fill="#fbfbfb"/><g filter="url(#b5)"><polygon points="-45,-20 -28,-11 -10,7 -5,16 -45,16" fill="#ededed"/><polygon points="22,-14 45,-16 45,15 12,15 18,4" fill="#ededed"/></g><g filter="url(#b3)"><polygon points="-45,-12 -30,-8 -18,2 -6,13 -6,16 -45,16" fill="#dedede"/><ellipse cx="-33" cy="6" rx="10" ry="7" fill="#c7c7c7"/><polygon points="25,-10 45,-12 45,15 15,15 21,8" fill="#dfdfdf"/><ellipse cx="-5" cy="14" rx="6" ry="3" fill="#e6e6e6"/></g><g filter="url(#b2)"><polygon points="-45,17 45,17 45,50 -45,50" fill="#f7f7f7"/></g></g><path d="M-43.6 9.7L-38.6 8.8L-35.1 9.8L-32.6 9.9L-30.1 9.6L-27.6 8.3L-26.4 6.0L-26.8 4.5L-28.1 2.9L-29.8 2.0L-32.1 1.4L-35.1 1.5L-37.1 2.2L-39.6 3.8L-43.6 4.4M-43.6 14.0L-37.6 12.3L-31.6 12.5L-27.1 11.5L-24.0 9.5L-23.1 8.0L-22.8 6.5L-23.3 4.0L-25.1 1.5L-27.6 -0.3L-30.1 -1.5L-32.1 -1.9L-35.1 -2.1L-39.6 -0.8L-43.6 -0.7M-43.6 16.4L-36.6 14.1L-30.1 14.0L-24.0 13.0L-17.6 10.5L-17.0 9.0L-20.2 3.0L-21.9 1.0L-25.1 -1.8L-30.1 -4.9L-35.6 -7.1L-43.6 -8.7M43.9 8.7L39.9 7.3L38.5 6.5L36.4 2.6L31.4 0.8L29.8 1.5L27.0 5.5L26.1 9.0L26.4 9.6L28.9 10.3L37.9 9.4L43.9 10.0M-43.6 18.6L-36.1 15.7L-21.1 14.7L-13.6 14.6L-9.1 13.7L-8.0 13.0L-8.0 12.5L-10.6 8.5L-15.3 3.5L-22.6 -3.2L-28.6 -7.9L-32.1 -9.9L-35.1 -11.1L-43.6 -13.7M43.9 -13.5L37.4 -11.6L29.4 -10.3L27.5 -9.5L25.9 -8.5L24.3 -6.0L20.8 4.5L18.2 10.5L17.8 12.0L18.5 13.5L20.9 14.5L23.9 14.8L35.9 14.5L43.9 17.1M-43.6 21.2L-36.6 18.0L-34.6 17.3L-22.1 16.9L-5.1 16.9L-2.6 16.6L-0.1 15.5L0.8 13.5L0.4 12.3L-1.1 10.6L-6.1 7.4L-9.2 3.5L-11.6 1.2L-17.6 -3.3L-25.9 -10.5L-34.1 -15.7L-40.6 -18.8L-43.6 -19.7M43.9 -18.5L35.9 -15.2L30.9 -14.4L26.9 -13.2L25.4 -12.4L23.2 -10.5L21.4 -8.0L17.8 1.5L15.9 5.5L13.8 9.0L12.9 13.0L13.6 16.0L15.9 17.1L20.4 17.5L34.9 17.1L43.9 20.8M12.9 44.0L14.9 42.3L16.5 40.0L17.2 37.5L17.0 34.0L15.8 29.5L13.9 26.0L11.9 24.1L9.4 23.5L6.4 24.1L2.9 26.1L0.4 28.9L-1.0 32.0L-1.5 35.5L-1.0 39.0L0.4 41.7L2.8 44.0M35.4 -43.5L36.8 -40.0L37.2 -36.5L36.9 -32.0L35.9 -29.0L31.4 -23.2L24.0 -18.5L19.4 -14.9L15.0 -7.0L13.2 -4.5L11.4 -2.9L8.9 -2.2L7.4 -2.5L5.9 -3.4L1.4 -8.1L-1.1 -9.9L-4.6 -11.2L-11.6 -12.5L-13.6 -13.5L-15.1 -14.9L-16.1 -16.5L-16.9 -20.0L-16.3 -23.0L-14.7 -25.0L-7.6 -29.0L-4.6 -31.0L3.4 -38.8L9.2 -43.5" fill="none" stroke="#1a0d00" stroke-opacity="0.45" stroke-width="0.55" stroke-linejoin="round"/></g><circle r="40.70" fill="none" stroke="#111" stroke-width="1.1"/><circle cx="0" cy="0" r="17" fill="none" stroke="#000" stroke-width="1.7" stroke-dasharray="4.6 2.1"/></g>
<g transform="translate(426.3 646.3)"><path d="M-40.35 9.47 A41.45 41.45 0 0 1 -40.25 -9.89 M40.35 -9.47 A41.45 41.45 0 0 1 40.25 9.89" fill="none" stroke="#1c1c1c" stroke-width="1.7"/><path d="M-8.22 -40.42 A41.25 41.25 0 0 1 8.22 -40.42" fill="none" stroke="#1a1a1a" stroke-width="1.3"/><path d="M-39.3 -9.9l-2.4 -0.6M-39.3 9.9l-2.4 0.6M39.3 -9.9l2.4 -0.6M39.3 9.9l2.4 0.6M-8.3 -40.1l-0.6 -1.4M8.3 -40.1l0.6 -1.4" fill="none" stroke="#222" stroke-width="0.7"/><g clip-path="url(#hc)"><g filter="url(#jet)"><rect x="-60" y="-60" width="120" height="120" fill="#c4c4c4"/><g filter="url(#b5)"><ellipse cx="-30" cy="-28" rx="18" ry="14" fill="#dfdfdf" transform="rotate(-20 -30 -28)"/><ellipse cx="12" cy="-33" rx="16" ry="9" fill="#bababa"/><ellipse cx="45" cy="-8" rx="9" ry="20" fill="#dedede"/></g><g filter="url(#b4)"><polygon points="-50,20 -20,22 0,20 12,16 25,20 50,18 50,50 -50,50" fill="#e3e3e3"/><polygon points="-50,27 -20,29 0,27 12,23 25,27 50,25 50,50 -50,50" fill="#fbfbfb"/><polygon points="-50,-9 -18,-15 -10,-2 -11,17 -30,21 -50,22" fill="#999999"/><polygon points="15,-27 22,-25 33,-6 42,14 36,19 15,18" fill="#969696"/></g><g filter="url(#b3)"><ellipse cx="-26" cy="8" rx="10.5" ry="9" fill="#6b6b6b"/><ellipse cx="1" cy="2" rx="6.5" ry="17" fill="#e3e3e3"/><ellipse cx="1" cy="3" rx="2.5" ry="5" fill="#ededed"/></g></g><path d="M-23.0 14.0L-20.3 12.5L-18.5 10.0L-18.2 7.0L-19.6 4.1L-22.1 2.2L-25.1 1.3L-28.6 1.6L-31.6 3.2L-33.1 5.0L-33.9 7.5L-33.6 10.0L-32.6 11.8L-30.6 13.4L-28.1 14.3L-25.6 14.4L-23.0 14.0M-43.6 14.5L-38.1 12.9L-37.1 13.2L-33.1 15.9L-30.1 16.9L-26.6 17.3L-22.6 16.8L-19.2 15.5L-16.6 13.4L-15.0 10.5L-14.6 7.0L-15.7 3.0L-17.1 0.9L-18.6 -0.6L-20.1 -1.6L-22.6 -2.6L-27.1 -3.1L-30.6 -2.3L-34.1 -0.4L-37.0 3.0L-39.1 8.1L-40.1 8.7L-43.6 9.4M43.9 11.8L38.4 10.2L31.0 -6.0L23.9 -19.0L22.4 -20.9L20.9 -22.0L19.4 -22.5L18.1 -22.0L17.3 -21.0L16.6 -19.0L16.3 -14.0L16.4 8.0L16.7 10.5L17.6 12.5L19.9 14.5L22.9 15.4L26.9 15.8L30.9 15.8L37.4 14.4L43.9 16.7M-43.6 22.9L-35.1 18.7L-25.1 19.2L-21.1 18.6L-17.1 17.1L-14.4 15.5L-12.7 13.5L-11.8 11.0L-11.5 7.5L-11.9 1.5L-13.1 -3.0L-15.9 -8.0L-18.6 -10.5L-20.6 -11.4L-23.1 -11.6L-37.6 -9.3L-43.6 -10.4M1.6 -43.5L1.5 -39.5L-0.8 -36.5L-1.5 -34.5L-1.6 -33.0L-1.0 -30.5L-0.1 -28.8L1.9 -27.0L6.3 -24.5L9.0 -20.5L11.0 -5.0L11.2 10.5L12.0 13.0L15.1 16.0L18.9 17.9L22.9 18.8L26.4 19.2L34.4 19.0L43.9 23.7M43.9 2.9L39.9 2.5L38.4 1.3L31.3 -17.0L27.9 -27.0L28.1 -28.0L30.4 -31.3L39.4 -39.8L42.9 -43.5M-43.6 28.0L-32.6 21.5L-22.6 21.1L-17.6 20.1L-13.1 18.7L-9.8 17.0L-8.8 16.0L-7.9 14.0L-7.7 11.5L-8.2 -2.5L-8.7 -7.5L-10.1 -11.5L-12.6 -14.2L-16.1 -15.7L-20.1 -16.1L-36.6 -13.8L-43.6 -16.1M-22.0 -43.5L-17.0 -33.0L-16.3 -30.5L-17.0 -26.5L-18.8 -23.5L-21.6 -21.8L-24.1 -20.8L-28.6 -19.5L-33.1 -18.9L-35.1 -19.2L-43.6 -23.5M-43.6 33.8L-30.9 24.5L-19.6 23.7L-13.1 22.8L-5.1 21.4L-2.4 20.5L-0.9 19.5L-0.3 18.5L-0.3 18.0L-2.6 13.5L-4.1 7.6L-4.4 -0.0L-3.7 -5.5L-2.6 -9.4L-1.1 -11.5L0.9 -12.4L2.9 -11.6L4.4 -9.7L5.8 -5.5L6.5 -1.5L6.6 5.0L5.6 11.0L4.3 16.5L4.4 17.5L5.4 18.0L11.4 18.8L20.9 21.6L26.4 22.2L32.4 22.4L43.9 29.7M-39.7 44.0L-37.6 40.8L-28.9 31.5L-26.1 29.2L-18.1 29.0L-6.1 27.8L0.4 26.8L8.4 24.7L10.9 24.4L14.4 24.7L21.4 26.3L27.4 26.9L28.9 27.4L41.0 39.0L43.9 41.1" fill="none" stroke="#1a0d00" stroke-opacity="0.55" stroke-width="0.55" stroke-linejoin="round"/></g><circle r="40.70" fill="none" stroke="#111" stroke-width="1.1"/><circle cx="0" cy="0" r="17" fill="none" stroke="#000" stroke-width="1.7" stroke-dasharray="4.6 2.1"/></g>
<g transform="translate(546.4 646.7)"><path d="M-40.35 9.47 A41.45 41.45 0 0 1 -40.25 -9.89 M40.35 -9.47 A41.45 41.45 0 0 1 40.25 9.89" fill="none" stroke="#1c1c1c" stroke-width="1.7"/><path d="M-8.22 -40.42 A41.25 41.25 0 0 1 8.22 -40.42" fill="none" stroke="#1a1a1a" stroke-width="1.3"/><path d="M-39.3 -9.9l-2.4 -0.6M-39.3 9.9l-2.4 0.6M39.3 -9.9l2.4 -0.6M39.3 9.9l2.4 0.6M-8.3 -40.1l-0.6 -1.4M8.3 -40.1l0.6 -1.4" fill="none" stroke="#222" stroke-width="0.7"/><g clip-path="url(#hc)"><g filter="url(#jet)"><rect x="-60" y="-60" width="120" height="120" fill="#ffffff"/><g filter="url(#b3)"><ellipse cx="0" cy="21" rx="3" ry="2" fill="#f2f2f2"/></g></g><path d="M-11.1 -2.5L-9.6 -3.7L-9.5 -5.5L-10.6 -6.6L-12.1 -6.7L-13.6 -5.8L-14.3 -4.0L-13.8 -3.0L-13.1 -2.5L-11.1 -2.5M27.3 35.5L29.4 34.5L31.1 32.5L31.8 30.5L31.6 28.5L30.4 26.9L28.4 25.8L25.9 25.5L23.9 26.0L22.0 27.0L20.8 28.5L20.2 30.5L20.5 32.5L21.8 34.5L23.4 35.5L25.4 35.9L27.3 35.5M15.9 -23.5L18.4 -24.4L20.1 -26.0L21.4 -28.5L21.5 -31.0L20.6 -33.5L18.9 -35.4L16.9 -36.4L14.4 -36.6L11.9 -35.8L9.7 -34.0L8.5 -31.5L8.4 -29.0L9.3 -26.5L10.9 -24.7L13.4 -23.5L15.9 -23.5M-11.2 5.5L-7.6 4.4L-4.6 2.1L-2.5 -1.0L-1.5 -4.5L-1.7 -8.0L-3.1 -11.1L-5.6 -13.3L-9.1 -14.5L-11.1 -14.5L-13.1 -14.0L-17.1 -11.6L-19.7 -9.0L-21.9 -6.0L-23.2 -3.5L-23.6 -1.5L-23.1 1.5L-22.1 3.0L-20.6 4.1L-18.6 5.0L-16.1 5.6L-11.2 5.5M43.9 25.6L39.9 23.6L33.9 22.3L27.9 21.9L23.4 22.4L19.9 23.8L17.2 26.0L15.4 29.0L14.8 32.5L15.5 36.0L17.4 39.2L20.4 41.5L23.9 42.6L27.4 42.7L31.4 41.9L40.6 38.5L43.9 36.8M-12.4 40.0L-9.6 38.6L-7.9 36.5L-7.0 34.0L-7.3 31.5L-9.1 28.0L-12.1 24.8L-14.6 23.6L-17.6 23.8L-20.1 25.3L-22.3 28.0L-23.2 31.5L-22.7 35.0L-21.1 37.7L-18.6 39.6L-15.6 40.4L-12.4 40.0M4.6 -44.0L1.9 -41.2L-0.2 -38.0L-1.8 -34.0L-3.2 -28.0L-4.2 -26.0L-6.1 -24.5L-12.1 -22.2L-15.6 -19.7L-28.3 -5.5L-30.7 -1.5L-31.4 2.5L-31.0 7.0L-29.6 10.4L-26.5 15.0L-25.9 17.0L-26.1 19.5L-29.0 29.0L-29.7 34.0L-29.6 37.0L-29.0 39.5L-26.7 43.5M43.9 12.1L37.8 16.0L34.4 17.7L30.9 18.6L21.1 20.0L15.8 22.0L12.7 24.5L5.9 33.7L4.4 35.2L3.4 35.5L1.9 34.7L-1.6 31.7L-5.6 27.7L-8.3 24.0L-10.4 19.5L-10.9 16.5L-10.3 14.5L-8.7 12.5L-2.1 7.9L0.6 5.0L3.4 0.0L6.9 -9.4L8.0 -11.5L10.6 -13.0L18.4 -14.2L21.9 -15.4L24.9 -17.6L27.9 -22.0L29.7 -25.5L30.9 -29.0L31.4 -32.0L31.4 -34.5L30.8 -37.0L29.6 -39.5L27.7 -42.0L25.5 -44.0M-2.3 43.5L1.9 39.5L3.4 38.8L4.9 40.2L6.9 43.5M-19.0 -44.0L-18.8 -41.5L-19.0 -38.5L-21.1 -30.5L-22.1 -21.5L-23.5 -17.5L-25.3 -14.5L-27.6 -12.0L-30.1 -10.2L-35.3 -7.5L-37.1 -6.0L-38.2 -4.0L-40.6 2.5L-42.1 4.3L-43.6 5.0M43.9 -6.1L40.4 -6.7L37.9 -8.2L36.1 -11.0L35.5 -14.0L36.1 -17.5L37.9 -20.5L40.9 -22.6L43.9 -23.3M3.4 28.2L0.9 28.5L-1.6 27.8L-4.1 26.0L-5.7 24.0L-6.8 21.5L-7.0 19.0L-6.2 16.5L-4.6 14.6L-1.6 12.7L4.2 11.0L5.9 10.1L6.9 8.7L9.2 3.5L10.9 1.1L13.4 -1.3L16.4 -2.9L21.4 -4.1L26.9 -4.1L31.4 -3.1L33.4 -2.1L34.6 -1.0L36.6 2.5L37.2 6.5L36.4 10.0L34.4 13.1L31.9 14.9L28.4 16.2L23.9 16.8L14.4 17.5L12.2 18.0L10.4 19.8L6.9 25.6L5.4 27.1L3.4 28.2M-31.6 -17.3L-32.6 -17.2L-33.6 -17.4L-34.7 -19.0L-34.6 -20.0L-34.0 -21.0L-32.1 -21.9L-30.6 -21.3L-30.1 -20.0L-30.4 -18.5L-31.6 -17.3M26.4 13.6L23.4 13.8L20.4 13.4L18.1 12.5L16.3 11.0L15.5 9.0L15.7 7.0L16.6 5.0L18.6 3.0L21.9 1.5L25.9 1.1L29.2 2.0L31.5 4.0L32.5 7.0L31.9 10.0L29.9 12.2L26.4 13.6M2.4 25.7L0.4 26.0L-1.6 25.4L-3.3 24.0L-4.5 22.0L-4.7 20.0L-4.1 18.0L-2.6 16.3L-0.6 15.3L1.4 15.1L3.5 15.5L5.0 16.5L6.1 18.5L6.1 21.0L5.4 23.0L4.2 24.5L2.4 25.7M1.9 23.1L-0.1 23.4L-1.1 23.0L-2.0 22.0L-2.3 21.0L-2.2 19.5L-0.6 18.1L0.4 17.8L1.7 18.0L3.2 19.5L3.2 21.5L1.9 23.1" fill="none" stroke="#1a0d00" stroke-opacity="0.42" stroke-width="0.65" stroke-linejoin="round"/></g><circle r="40.70" fill="none" stroke="#111" stroke-width="1.1"/><circle cx="0" cy="0" r="17" fill="none" stroke="#000" stroke-width="1.7" stroke-dasharray="4.6 2.1"/></g>
<g transform="translate(135.4 753.4)"><path d="M-40.35 9.47 A41.45 41.45 0 0 1 -40.25 -9.89 M40.35 -9.47 A41.45 41.45 0 0 1 40.25 9.89" fill="none" stroke="#1c1c1c" stroke-width="1.7"/><path d="M-8.22 -40.42 A41.25 41.25 0 0 1 8.22 -40.42" fill="none" stroke="#1a1a1a" stroke-width="1.3"/><path d="M-39.3 -9.9l-2.4 -0.6M-39.3 9.9l-2.4 0.6M39.3 -9.9l2.4 -0.6M39.3 9.9l2.4 0.6M-8.3 -40.1l-0.6 -1.4M8.3 -40.1l0.6 -1.4" fill="none" stroke="#222" stroke-width="0.7"/><g clip-path="url(#hc)"><g filter="url(#jet)"><rect x="-60" y="-60" width="120" height="120" fill="#252525"/><g filter="url(#b5)"><ellipse cx="-2" cy="-24" rx="9.5" ry="8.5" fill="#525252"/><ellipse cx="20" cy="-28" rx="12" ry="10" fill="#303030" transform="rotate(-30 20 -28)"/><ellipse cx="4" cy="0" rx="8" ry="5" fill="#171717" transform="rotate(20 4 0)"/></g><g filter="url(#b3)"><polygon points="-60,-14 -50,-14 -38,-7 -20,4 0,9 14,8 22,1 30,-5 40,-12 50,-16 60,-16 60,60 -60,60" fill="#404040"/><polygon points="-60,-9.5 -50,-9.5 -38,-2.5 -20,8.5 0,13.5 14,12.5 22,5.5 30,-0.5 40,-7.5 50,-11.5 60,-11.5 60,60 -60,60" fill="#5d5d5d"/><polygon points="-60,9 -50,9 -38,12 -20,16 0,18 15,18 30,16 40,11 50,7 60,7 60,60 -60,60" fill="#6e6e6e"/><polygon points="-60,12 -50,12 -38,15 -20,19 0,21 15,21 30,19 40,14 50,10 60,10 60,60 -60,60" fill="#808080"/><polygon points="-60,15.5 -50,15.5 -38,18.5 -20,22.5 0,24.5 15,24.5 30,22.5 40,17.5 50,13.5 60,13.5 60,60 -60,60" fill="#919191"/><polygon points="-60,19 -50,19 -38,22 -20,26 0,28 15,28 30,26 40,21 50,17 60,17 60,60 -60,60" fill="#a1a1a1"/><ellipse cx="-11" cy="40" rx="12" ry="7" fill="#b2b2b2"/></g></g><path d="M43.8 -36.2L42.8 -35.9L30.8 -25.8L27.5 -21.1L22.8 -18.5L19.8 -17.7L13.8 -16.9L4.8 -12.3L-1.2 -10.9L-4.2 -10.9L-7.7 -11.6L-10.2 -12.7L-12.4 -14.6L-14.1 -16.6L-15.2 -18.6L-16.2 -21.6L-16.4 -24.1L-16.0 -27.1L-15.3 -29.1L-13.7 -32.1L-11.8 -34.1L-7.7 -36.6L-2.7 -37.7L0.3 -37.5L8.8 -35.6L12.3 -35.8L13.8 -36.4L14.5 -37.1L16.9 -43.6M-43.7 -11.6L-37.2 -9.7L-22.2 -0.6L-17.7 1.6L-1.9 6.4L0.8 6.8L4.8 6.9L9.3 6.5L12.8 5.3L15.6 3.4L23.8 -3.9L35.3 -11.9L37.8 -13.2L43.8 -15.1M-2.2 -19.1L-4.2 -19.6L-5.8 -20.6L-6.8 -22.1L-7.2 -24.1L-6.7 -26.1L-5.7 -27.5L-4.2 -28.5L-2.2 -28.9L-0.1 -28.6L1.8 -27.6L3.1 -26.1L3.6 -24.1L3.1 -22.1L1.8 -20.5L0.3 -19.6L-2.2 -19.1M-43.7 -5.4L-41.7 -5.3L-38.2 -4.4L-23.6 4.4L-18.7 6.7L-3.2 10.7L3.8 11.3L10.8 10.7L14.3 9.6L17.3 7.6L29.8 -2.3L36.9 -7.1L39.3 -8.3L43.8 -9.1M-43.7 1.5L-39.2 1.7L-27.2 8.7L-23.2 10.6L-19.7 11.8L-2.7 15.2L1.8 15.6L6.3 15.5L13.3 14.9L17.8 13.5L20.8 11.7L38.3 -1.3L39.8 -1.9L43.8 -2.2M-43.7 17.5L-37.2 15.1L-35.7 14.9L-21.7 17.9L-15.2 18.9L-0.2 20.3L12.3 20.4L17.8 20.0L27.3 18.6L36.3 15.6L43.8 18.4M-43.7 26.1L-34.7 21.0L-33.2 20.6L-18.2 23.4L1.3 25.3L16.8 25.0L25.8 23.8L32.3 22.4L33.6 22.9L43.8 29.6M-26.6 43.9L-22.3 36.4L-20.2 33.4L-16.2 31.7L-11.7 31.4L-5.2 32.2L-2.7 33.1L-0.2 34.6L1.3 36.3L2.1 37.9L2.9 43.9" fill="none" stroke="#1a0d00" stroke-opacity="0.55" stroke-width="0.55" stroke-linejoin="round"/></g><circle r="40.70" fill="none" stroke="#111" stroke-width="1.1"/><circle cx="0" cy="0" r="17" fill="none" stroke="#000" stroke-width="1.7" stroke-dasharray="4.6 2.1"/></g>
<g transform="translate(254.3 753.4)"><path d="M-40.35 9.47 A41.45 41.45 0 0 1 -40.25 -9.89 M40.35 -9.47 A41.45 41.45 0 0 1 40.25 9.89" fill="none" stroke="#1c1c1c" stroke-width="1.7"/><path d="M-8.22 -40.42 A41.25 41.25 0 0 1 8.22 -40.42" fill="none" stroke="#1a1a1a" stroke-width="1.3"/><path d="M-39.3 -9.9l-2.4 -0.6M-39.3 9.9l-2.4 0.6M39.3 -9.9l2.4 -0.6M39.3 9.9l2.4 0.6M-8.3 -40.1l-0.6 -1.4M8.3 -40.1l0.6 -1.4" fill="none" stroke="#222" stroke-width="0.7"/><g clip-path="url(#hc)"><g filter="url(#jet)"><rect x="-60" y="-60" width="120" height="120" fill="#dbdbdb"/><g filter="url(#b5)"><ellipse cx="26" cy="4" rx="14" ry="9" fill="#c4c4c4"/><ellipse cx="6" cy="-21" rx="10" ry="17" fill="#c6c6c6" transform="rotate(12 6 -21)"/><ellipse cx="12" cy="-5" rx="11" ry="8" fill="#c8c8c8" transform="rotate(40 12 -5)"/><ellipse cx="-38" cy="0" rx="6" ry="14" fill="#d6d6d6"/><polygon points="4,50 11,30 24,23 50,10 50,50" fill="#f9f9f9"/><ellipse cx="-7" cy="6" rx="8" ry="10" fill="#e3e3e3"/><ellipse cx="0" cy="28" rx="4" ry="5" fill="#d4d4d4"/></g><g filter="url(#b3)"><ellipse cx="24" cy="4.5" rx="7" ry="5" fill="#b2b2b2"/></g></g><path d="M26.6 7.4L28.0 6.4L28.8 4.9L28.6 3.4L27.4 2.0L25.4 1.0L23.4 0.8L21.4 1.4L20.2 2.4L19.6 3.4L19.5 4.9L19.9 5.9L20.9 6.9L23.4 7.8L26.6 7.4M27.2 10.4L30.4 8.8L31.9 7.4L32.7 5.9L33.0 3.4L32.4 1.9L31.3 0.4L28.4 -1.5L24.4 -2.4L20.4 -2.3L16.9 -0.7L15.9 1.4L15.6 3.9L16.1 5.9L17.4 7.9L19.4 9.6L21.4 10.4L24.9 10.7L27.2 10.4M27.2 12.9L31.9 11.4L35.5 8.9L37.1 6.9L38.2 4.9L38.5 2.9L38.0 1.4L36.1 -1.6L33.4 -3.6L30.9 -4.6L23.9 -6.2L20.4 -7.8L18.9 -8.9L16.9 -12.1L15.9 -15.6L16.1 -23.6L15.8 -26.6L15.2 -29.1L14.1 -31.6L12.5 -34.1L10.4 -35.3L6.9 -35.9L4.4 -35.1L1.9 -33.4L0.1 -31.1L-2.7 -25.6L-3.8 -21.6L-4.0 -17.6L-3.7 -14.6L-2.9 -11.6L1.3 -6.1L10.9 3.9L13.4 8.6L15.4 10.7L17.4 12.0L20.9 12.9L27.2 12.9M-4.6 18.9L-8.1 19.3L-12.6 18.9L-15.5 16.4L-18.3 12.9L-20.1 9.9L-19.5 7.4L-19.5 4.9L-18.9 0.9L-17.7 -0.6L-16.6 -3.5L-14.4 -5.6L-9.6 -5.7L-6.1 -4.0L-1.6 -0.2L0.6 2.4L3.0 6.4L3.9 11.9L2.8 14.4L1.3 16.4L-4.6 18.9M-0.7 43.9L-0.7 39.4L-0.2 37.9L7.9 23.7L10.9 20.8L14.9 19.2L28.4 16.1L37.4 12.4L43.9 14.1M7.4 43.9L6.7 39.4L7.8 35.9L10.4 31.1L12.9 28.3L14.9 26.7L21.6 22.9L34.9 17.2L36.4 17.2L43.9 20.4M14.3 43.9L12.5 37.4L13.0 35.9L14.4 33.6L18.4 29.9L30.4 23.6L31.4 23.3L32.4 23.5L43.9 31.4" fill="none" stroke="#1a0d00" stroke-opacity="0.45" stroke-width="0.55" stroke-linejoin="round"/></g><circle r="40.70" fill="none" stroke="#111" stroke-width="1.1"/><circle cx="0" cy="0" r="17" fill="none" stroke="#000" stroke-width="1.7" stroke-dasharray="4.6 2.1"/></g>
<g transform="translate(426.3 753.4)"><path d="M-40.35 9.47 A41.45 41.45 0 0 1 -40.25 -9.89 M40.35 -9.47 A41.45 41.45 0 0 1 40.25 9.89" fill="none" stroke="#1c1c1c" stroke-width="1.7"/><path d="M-8.22 -40.42 A41.25 41.25 0 0 1 8.22 -40.42" fill="none" stroke="#1a1a1a" stroke-width="1.3"/><path d="M-39.3 -9.9l-2.4 -0.6M-39.3 9.9l-2.4 0.6M39.3 -9.9l2.4 -0.6M39.3 9.9l2.4 0.6M-8.3 -40.1l-0.6 -1.4M8.3 -40.1l0.6 -1.4" fill="none" stroke="#222" stroke-width="0.7"/><g clip-path="url(#hc)"><g filter="url(#jet)"><rect x="-60" y="-60" width="120" height="120" fill="#717171"/><g filter="url(#b5)"><ellipse cx="0" cy="-36" rx="26" ry="8" fill="#808080"/><ellipse cx="2" cy="6" rx="9" ry="6" fill="#696969"/></g><g filter="url(#b4)"><ellipse cx="-44" cy="3" rx="8" ry="16" fill="#a3a3a3"/><ellipse cx="44" cy="4" rx="6" ry="14" fill="#919191"/><polygon points="-60,6 -50,6 -30,13 -15,16 0,15 15,16 30,13 50,6 60,6 60,60 -60,60" fill="#8f8f8f"/><polygon points="-60,10.5 -50,10.5 -30,17.5 -15,20.5 0,19.5 15,20.5 30,17.5 50,10.5 60,10.5 60,60 -60,60" fill="#a3a3a3"/><polygon points="-60,15 -50,15 -30,22 -15,25 0,24 15,25 30,22 50,15 60,15 60,60 -60,60" fill="#c2c2c2"/><polygon points="-60,19 -50,19 -30,26 -15,29 0,28 15,29 30,26 50,19 60,19 60,60 -60,60" fill="#dedede"/><polygon points="-60,25 -50,25 -30,32 -15,35 0,34 15,35 30,32 50,25 60,25 60,60 -60,60" fill="#f5f5f5"/></g><g filter="url(#b3)"><ellipse cx="-19" cy="-4" rx="10" ry="15" fill="#5c5c5c" transform="rotate(-8 -19 -4)"/><ellipse cx="-9" cy="-14" rx="8" ry="4.5" fill="#5d5d5d" transform="rotate(25 -9 -14)"/><ellipse cx="20" cy="-6" rx="8.5" ry="17" fill="#5c5c5c" transform="rotate(-8 20 -6)"/><ellipse cx="-21" cy="-5" rx="3" ry="6.5" fill="#4c4c4c"/></g></g><path d="M21.5 6.9L22.8 6.4L23.9 5.4L24.9 3.4L25.8 -0.6L25.7 -5.6L24.4 -11.8L22.7 -15.6L20.4 -18.2L17.9 -18.7L16.8 -18.1L15.5 -16.6L14.6 -13.6L14.2 -9.6L14.5 -4.6L15.7 0.4L17.3 3.9L19.4 6.2L21.5 6.9M-17.4 7.4L-14.6 6.0L-12.7 2.9L-12.0 0.4L-11.7 -5.6L-11.1 -8.1L-10.2 -10.1L-7.9 -12.6L-8.3 -14.1L-9.6 -14.9L-13.4 -15.6L-18.6 -15.9L-21.1 -15.6L-23.1 -14.7L-24.6 -13.4L-26.5 -9.6L-27.0 -6.6L-27.0 -3.6L-26.5 -1.1L-25.4 1.9L-23.7 4.4L-21.6 6.2L-19.1 7.3L-17.4 7.4M23.7 -43.6L18.9 -34.7L16.4 -32.5L11.4 -30.9L-0.1 -29.8L-8.6 -30.4L-12.9 -31.1L-17.1 -32.7L-18.9 -34.6L-23.7 -43.6M-43.6 -13.6L-38.1 -11.9L-37.1 -11.3L-36.2 -10.1L-34.8 -7.1L-34.0 -4.1L-32.7 6.9L-31.3 9.4L-29.6 10.6L-26.1 12.1L-21.6 13.5L-17.1 14.2L-5.1 13.6L19.9 13.8L25.9 12.6L32.1 9.9L34.8 7.4L35.8 4.9L37.1 -3.1L38.4 -6.1L40.4 -6.9L43.9 -7.4M-43.6 -2.2L-40.1 -1.8L-39.3 -0.6L-39.1 1.9L-39.8 4.9L-41.6 5.5L-43.6 5.6M-43.6 15.8L-37.1 13.8L-30.6 16.3L-26.1 17.5L-19.1 18.9L-13.1 19.4L-0.6 18.9L10.9 19.4L16.4 19.2L26.9 17.3L36.4 14.4L43.9 16.9M-43.6 25.5L-35.1 20.7L-33.6 20.2L-19.6 23.3L-12.6 24.0L-0.6 23.5L15.4 23.8L21.9 22.9L33.4 20.2L34.9 20.6L43.9 25.7M-43.6 37.1L-40.6 34.9L-31.3 26.9L-29.6 25.9L-15.1 28.3L-0.1 27.9L12.4 28.3L18.4 27.9L29.4 25.9L30.9 26.5L41.9 36.0L43.9 37.3M-27.6 43.9L-27.0 42.4L-22.1 34.7L-21.3 33.9L-20.6 33.5L-13.1 34.0L1.9 33.5L12.4 34.0L19.9 33.5L20.9 33.7L21.8 34.4L27.6 43.9" fill="none" stroke="#1a0d00" stroke-opacity="0.55" stroke-width="0.55" stroke-linejoin="round"/></g><circle r="40.70" fill="none" stroke="#111" stroke-width="1.1"/><circle cx="0" cy="0" r="17" fill="none" stroke="#000" stroke-width="1.7" stroke-dasharray="4.6 2.1"/></g>
<g transform="translate(546.6 753.4)"><path d="M-40.35 9.47 A41.45 41.45 0 0 1 -40.25 -9.89 M40.35 -9.47 A41.45 41.45 0 0 1 40.25 9.89" fill="none" stroke="#1c1c1c" stroke-width="1.7"/><path d="M-8.22 -40.42 A41.25 41.25 0 0 1 8.22 -40.42" fill="none" stroke="#1a1a1a" stroke-width="1.3"/><path d="M-39.3 -9.9l-2.4 -0.6M-39.3 9.9l-2.4 0.6M39.3 -9.9l2.4 -0.6M39.3 9.9l2.4 0.6M-8.3 -40.1l-0.6 -1.4M8.3 -40.1l0.6 -1.4" fill="none" stroke="#222" stroke-width="0.7"/><g clip-path="url(#hc)"><g filter="url(#jet)"><rect x="-60" y="-60" width="120" height="120" fill="#e2e2e2"/><g filter="url(#b7)"><ellipse cx="0" cy="-18" rx="38" ry="20" fill="#d6d6d6"/></g><g filter="url(#b5)"><ellipse cx="-23" cy="-10" rx="9" ry="14" fill="#cdcdcd"/><ellipse cx="9" cy="-23" rx="13" ry="9" fill="#cdcdcd"/><ellipse cx="26" cy="3" rx="9" ry="12" fill="#cdcdcd"/><ellipse cx="-6" cy="-8" rx="5" ry="12" fill="#dddddd" transform="rotate(-15 -6 -8)"/><polygon points="-50,14 -25,19 -8,26 -4,42 -50,50" fill="#f7f7f7"/><polygon points="50,10 30,18 14,21 9,42 50,50" fill="#f7f7f7"/><ellipse cx="2" cy="7" rx="7" ry="11" fill="#ececec"/><ellipse cx="1" cy="32" rx="5" ry="9" fill="#dfdfdf"/></g><g filter="url(#b3)"><ellipse cx="5" cy="7" rx="2" ry="5" fill="#f2f2f2" transform="rotate(-35 5 7)"/></g></g><path d="M12.7 -15.1L15.1 -16.0L17.6 -17.6L19.5 -21.6L19.7 -22.6L19.2 -24.1L17.3 -27.6L13.6 -29.5L10.1 -30.2L5.6 -29.9L3.1 -29.2L-0.1 -26.6L-0.9 -25.1L-1.0 -21.1L1.3 -18.1L3.6 -16.3L5.6 -15.4L10.1 -14.8L12.7 -15.1M-21.8 -1.6L-18.9 -3.1L-17.9 -4.2L-16.6 -8.6L-16.4 -12.1L-17.7 -18.6L-20.9 -21.0L-23.4 -21.4L-25.9 -20.2L-28.3 -17.1L-29.2 -14.6L-29.5 -10.1L-28.4 -6.2L-26.8 -3.6L-24.4 -1.9L-21.8 -1.6M26.6 7.9L28.3 6.9L29.7 5.4L30.2 4.4L30.4 1.9L29.6 -0.5L28.3 -2.6L26.6 -3.8L25.1 -4.1L23.1 -3.1L22.1 -1.9L21.4 1.4L21.5 3.9L22.1 5.4L23.7 7.4L25.1 8.0L26.6 7.9M-43.9 -23.2L-38.4 -21.0L-35.2 -18.6L-34.8 -17.6L-35.3 -14.6L-34.9 -10.6L-33.8 -6.1L-31.0 -1.1L-28.9 1.1L-25.9 3.0L-22.9 3.7L-20.4 3.6L-16.9 2.3L-14.4 0.8L-12.0 -2.1L-11.1 -4.6L-10.0 -8.6L-9.9 -12.2L-8.9 -13.7L-6.9 -14.4L-5.4 -13.9L2.6 -9.3L10.4 -6.1L13.1 -4.1L15.1 0.2L17.6 8.0L19.1 10.0L21.3 11.4L22.6 11.9L25.6 12.4L29.1 11.4L32.6 8.7L34.6 5.4L35.2 2.4L35.1 -1.1L34.1 -5.1L31.6 -11.6L31.5 -13.6L30.5 -17.1L30.5 -21.1L29.5 -23.6L28.2 -25.1L27.1 -27.1L20.6 -33.3L11.6 -36.0L9.1 -35.8L6.6 -36.2L4.1 -36.1L-2.9 -34.5L-5.9 -33.4L-9.9 -32.5L-13.4 -31.0L-16.9 -31.1L-25.4 -28.9L-27.9 -28.9L-28.2 -28.1L-28.9 -27.7L-31.4 -28.9L-38.3 -35.6L-43.9 -40.3M-43.9 -4.1L-42.2 -4.1L-39.4 -3.2L-35.9 2.7L-31.9 6.4L-29.4 8.0L-24.4 9.3L-19.9 9.7L-16.4 9.2L-12.4 7.5L-8.5 3.4L-4.9 -2.3L-2.4 -4.0L-0.4 -4.5L3.6 -3.9L6.3 -2.6L8.6 -0.7L11.5 3.9L14.5 11.4L16.1 13.3L19.1 14.4L23.6 15.0L28.1 14.6L33.0 12.4L39.1 6.7L43.6 7.4M3.6 15.9L0.6 15.9L-0.9 15.4L-2.7 13.4L-3.4 9.9L-3.3 7.4L-1.9 3.5L-0.4 1.7L1.6 0.6L4.6 1.2L6.6 2.4L8.5 4.9L9.3 7.4L9.3 10.4L8.6 11.9L5.6 14.8L3.6 15.9M-43.9 14.9L-37.9 13.0L-34.9 13.0L-21.4 16.4L-15.9 18.6L-9.4 21.7L-7.4 23.5L-6.1 25.4L-3.6 31.4L-2.6 37.4L-2.9 43.9M8.5 43.9L7.3 36.9L8.3 29.9L10.1 23.4L11.1 21.3L12.6 19.7L14.1 18.8L16.1 18.2L25.6 17.5L29.6 16.6L37.1 13.1L38.1 13.1L43.6 14.8M-43.9 21.4L-35.9 17.8L-33.9 17.5L-24.9 19.8L-16.9 22.7L-13.6 24.4L-9.7 27.9L-8.2 30.4L-7.3 32.9L-7.0 36.9L-8.4 43.9M13.7 43.9L11.8 37.4L11.7 33.9L12.5 29.9L13.7 26.4L15.0 24.4L16.6 22.7L19.1 21.4L28.1 19.7L35.1 17.5L36.5 17.9L43.6 21.2M-43.9 30.3L-42.4 29.6L-33.5 23.4L-32.4 22.8L-27.4 23.8L-18.9 26.9L-15.9 28.5L-14.2 29.9L-12.9 31.5L-12.2 33.4L-12.3 35.4L-15.4 43.9M20.7 43.9L16.8 35.4L16.5 33.4L16.9 30.9L18.4 27.9L21.1 25.5L23.6 24.5L32.6 22.6L41.6 28.6L43.6 29.5" fill="none" stroke="#1a0d00" stroke-opacity="0.45" stroke-width="0.55" stroke-linejoin="round"/></g><circle r="40.70" fill="none" stroke="#111" stroke-width="1.1"/><circle cx="0" cy="0" r="17" fill="none" stroke="#000" stroke-width="1.7" stroke-dasharray="4.6 2.1"/></g>
<line x1="330.5" y1="1.4" x2="330.5" y2="844.7" stroke="#000" stroke-width="2.6" stroke-dasharray="9.8 7.03"/>
<rect x="643.9" y="345.3" width="16" height="200.3" fill="url(#cb)"/><rect x="644.1" y="345.6" width="15.4" height="199.8" fill="none" stroke="#2a2a2a" stroke-opacity="0.75" stroke-width="1"/><line x1="659.1" y1="345.3" x2="659.1" y2="545.6" stroke="#222" stroke-opacity="0.6" stroke-width="1.2"/>
<text x="193.4" y="34.1" font-size="19.1" text-anchor="middle">Paradigm Group</text>
<text x="486.6" y="34.1" font-size="19.2" text-anchor="middle">Longitudinal Group</text>
<text x="135.6" y="90.5" font-size="16.4" text-anchor="middle">MI</text>
<text x="254.3" y="90.5" font-size="16.4" text-anchor="middle">Idle</text>
<text x="426.8" y="90.3" font-size="16.4" text-anchor="middle">MI</text>
<text x="544.4" y="90.3" font-size="16.4" text-anchor="middle">Idle</text>
<text x="197.8" y="312.8" font-size="18.6" text-anchor="middle">Pre</text>
<text x="196.8" y="558.7" font-size="18.2" text-anchor="middle">IES</text>
<text x="195.5" y="816.4" font-size="18.1" text-anchor="middle">SES</text>
<text x="488.5" y="316.1" font-size="18.6" text-anchor="middle">Pre</text>
<text x="485.6" y="558.7" font-size="18.8" text-anchor="middle">Post</text>
<text x="484.2" y="817" font-size="18.8" text-anchor="middle">Follow</text>
<text x="659" y="331.6" font-size="12.6" text-anchor="middle">ERD(dB)</text>
<text x="667.6" y="351.9" font-size="11.8" text-anchor="start">0</text>
<text x="664.5" y="541.2" font-size="11.8" text-anchor="start">-1.5</text>
<text x="37.7" y="155.9" font-size="16.7" text-anchor="middle">Alpha</text>
<text x="37.7" y="176.3" font-size="17.1" text-anchor="middle">(8-13Hz)</text>
<text x="37.8" y="252.5" font-size="16.7" text-anchor="middle">Beta</text>
<text x="37.8" y="272.9" font-size="17.1" text-anchor="middle">(14-25Hz)</text>
<text x="44.8" y="395.9" font-size="16.7" text-anchor="middle">Alpha</text>
<text x="44.8" y="416.3" font-size="17.1" text-anchor="middle">(8-13Hz)</text>
<text x="44.9" y="498.9" font-size="16.7" text-anchor="middle">Beta</text>
<text x="44.9" y="519.3" font-size="17.1" text-anchor="middle">(14-25Hz)</text>
<text x="44.8" y="646.5" font-size="16.7" text-anchor="middle">Alpha</text>
<text x="44.8" y="666.9" font-size="17.1" text-anchor="middle">(8-13Hz)</text>
<text x="44.9" y="758.6" font-size="16.7" text-anchor="middle">Beta</text>
<text x="44.9" y="779" font-size="17.1" text-anchor="middle">(14-25Hz)</text>
</svg>
</body></html>
